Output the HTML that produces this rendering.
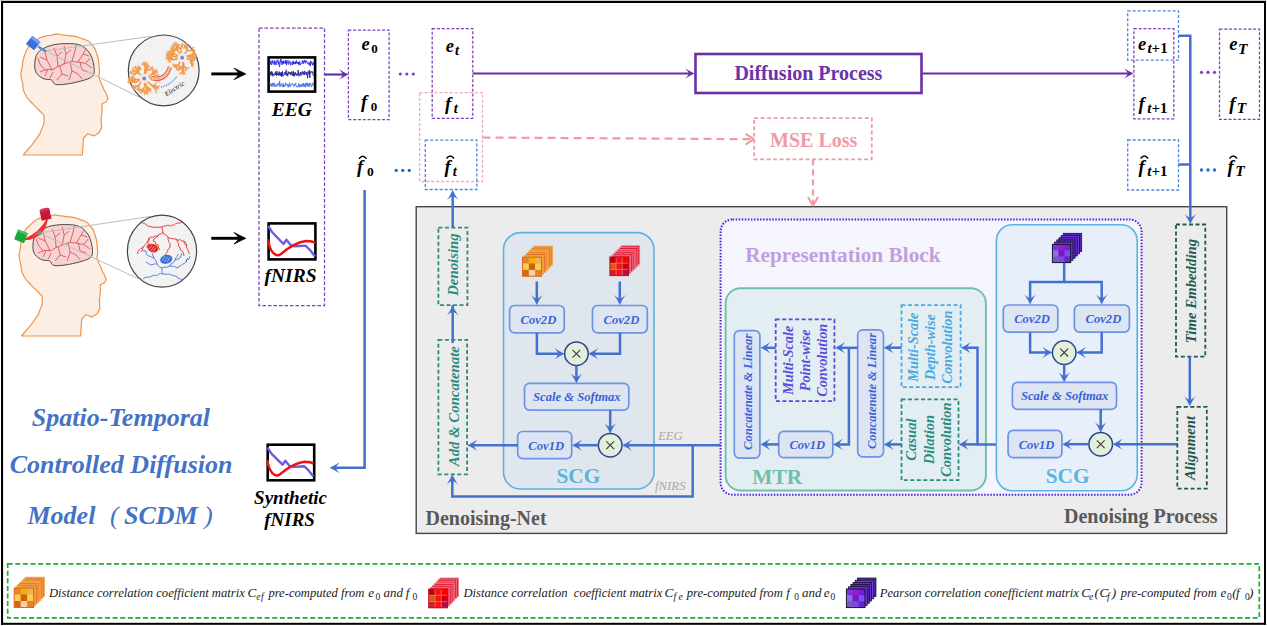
<!DOCTYPE html>
<html><head><meta charset="utf-8"><title>SCDM</title>
<style>html,body{margin:0;padding:0;background:#fff;} svg{display:block;}</style></head>
<body><svg width="1267" height="626" viewBox="0 0 1267 626">
<rect x="0" y="0" width="1267" height="626" fill="#fff"/>
<rect x="0" y="0" width="1267" height="1" fill="#c8c8c8"/>
<rect x="1" y="1" width="1265" height="2" fill="#000"/>
<rect x="1" y="1" width="2.1" height="623.8" fill="#000"/>
<rect x="1264" y="1" width="2" height="623.8" fill="#000"/>
<rect x="1" y="622.8" width="1265" height="2" fill="#000"/>
<path d="M44.00,115.10 C42.62,113.72 38.03,109.15 35.70,106.80 C33.37,104.45 31.55,102.72 30.00,101.00 C28.45,99.28 27.49,98.32 26.40,96.50 C25.31,94.68 24.07,92.15 23.45,90.06 C22.84,87.97 23.05,85.79 22.72,83.97 C22.40,82.14 21.81,80.81 21.51,79.09 C21.20,77.36 20.78,75.58 20.88,73.61 C20.99,71.65 21.79,69.39 22.13,67.29 C22.46,65.19 22.48,63.00 22.89,61.00 C23.30,59.01 23.81,57.44 24.59,55.31 C25.37,53.18 26.44,50.05 27.59,48.24 C28.74,46.43 30.11,45.75 31.48,44.46 C32.86,43.18 34.49,41.59 35.85,40.52 C37.22,39.44 37.95,38.79 39.66,38.02 C41.37,37.24 44.12,36.32 46.13,35.86 C48.13,35.40 49.96,35.56 51.69,35.24 C53.42,34.93 54.71,34.01 56.53,33.96 C58.36,33.91 60.73,34.66 62.64,34.94 C64.56,35.22 65.93,35.39 68.02,35.64 C70.11,35.89 73.04,36.02 75.20,36.46 C77.36,36.90 78.81,37.54 80.96,38.28 C83.11,39.02 86.37,39.91 88.10,40.90 C89.83,41.88 90.24,42.95 91.34,44.21 C92.44,45.46 93.89,47.04 94.72,48.43 C95.54,49.82 95.70,50.81 96.29,52.57 C96.88,54.33 97.82,56.95 98.27,59.00 C98.71,61.05 98.75,62.73 98.95,64.89 C99.15,67.04 99.48,69.98 99.46,71.95 C99.43,73.92 98.63,75.06 98.80,76.71 C98.98,78.36 99.90,80.34 100.51,81.87 C101.12,83.40 101.87,84.51 102.48,85.90 C103.10,87.29 103.53,88.77 104.20,90.20 C104.87,91.63 105.87,93.12 106.50,94.50 C107.13,95.88 107.75,97.83 108.00,98.50 L106.30,101.70 L102.10,103.70 L102.10,111.00 L101.10,119.30 L101.70,127.60 L99.00,132.80 L93.80,135.90 L87.60,133.80 L83.50,138.00 L82.40,155.00 L23.30,155.00 L32.60,144.20 L39.90,133.80 L44.00,123.40 Z" fill="#fdeee4" stroke="#ef9448" stroke-width="1.2" stroke-linejoin="round"/>
<path d="M34.70,65.30 C34.87,61.85 35.20,56.18 37.80,52.90 C40.40,49.62 45.45,47.15 50.30,45.60 C55.15,44.05 61.72,43.60 66.90,43.60 C72.08,43.60 77.43,43.70 81.40,45.60 C85.37,47.50 88.55,51.02 90.70,55.00 C92.85,58.98 94.12,65.87 94.30,69.50 C94.48,73.13 93.95,74.90 91.80,76.80 C89.65,78.70 85.55,79.70 81.40,80.90 C77.25,82.10 71.22,83.42 66.90,84.00 C62.58,84.58 58.10,85.08 55.50,84.40 C52.90,83.72 53.22,80.83 51.30,79.90 C49.38,78.97 46.42,79.85 44.00,78.80 C41.58,77.75 38.35,75.85 36.80,73.60 C35.25,71.35 34.53,68.75 34.70,65.30 Z" fill="#f6d2d2" stroke="#4a4a4a" stroke-width="1"/>
<path d="M 40.0,72.0 Q 48.0,68.0 52.0,70.0 Q 58.0,66.0 64.0,64.0 Q 72.0,60.0 78.0,62.0 Q 86.0,62.0 92.0,68.0" fill="none" stroke="#d83c3c" stroke-width="0.75"/>
<path d="M 52.0,70.0 L 47.0,60.0 L 45.0,52.0" fill="none" stroke="#d83c3c" stroke-width="0.75"/>
<path d="M 47.0,60.0 L 40.0,57.0" fill="none" stroke="#d83c3c" stroke-width="0.75"/>
<path d="M 58.0,67.0 L 57.0,56.0 L 54.0,48.0" fill="none" stroke="#d83c3c" stroke-width="0.75"/>
<path d="M 57.0,56.0 L 62.0,52.0" fill="none" stroke="#d83c3c" stroke-width="0.75"/>
<path d="M 64.0,64.0 L 66.0,54.0 L 64.0,46.0" fill="none" stroke="#d83c3c" stroke-width="0.75"/>
<path d="M 66.0,54.0 L 71.0,50.0" fill="none" stroke="#d83c3c" stroke-width="0.75"/>
<path d="M 72.0,61.0 L 75.0,51.0 L 76.0,45.0" fill="none" stroke="#d83c3c" stroke-width="0.75"/>
<path d="M 78.0,62.0 L 83.0,54.0 L 86.0,49.0" fill="none" stroke="#d83c3c" stroke-width="0.75"/>
<path d="M 83.0,54.0 L 89.0,56.0" fill="none" stroke="#d83c3c" stroke-width="0.75"/>
<path d="M 86.0,63.0 L 90.0,58.0" fill="none" stroke="#d83c3c" stroke-width="0.75"/>
<path d="M 60.0,66.0 L 62.0,74.0 L 57.0,80.0" fill="none" stroke="#d83c3c" stroke-width="0.75"/>
<path d="M 62.0,74.0 L 68.0,76.0" fill="none" stroke="#d83c3c" stroke-width="0.75"/>
<path d="M 70.0,62.0 L 72.0,71.0 L 69.0,80.0" fill="none" stroke="#d83c3c" stroke-width="0.75"/>
<path d="M 72.0,71.0 L 78.0,74.0 L 82.0,79.0" fill="none" stroke="#d83c3c" stroke-width="0.75"/>
<path d="M 80.0,62.0 L 82.0,70.0 L 88.0,72.0" fill="none" stroke="#d83c3c" stroke-width="0.75"/>
<path d="M 45.0,70.0 L 40.0,64.0 L 38.0,58.0" fill="none" stroke="#d83c3c" stroke-width="0.75"/>
<path d="M 48.0,69.0 L 45.0,76.0" fill="none" stroke="#d83c3c" stroke-width="0.75"/>
<path d="M 53.0,72.0 L 50.0,78.0" fill="none" stroke="#d83c3c" stroke-width="0.75"/>
<path d="M42.20,296.10 C40.82,294.72 36.23,290.15 33.90,287.80 C31.57,285.45 29.75,283.72 28.20,282.00 C26.65,280.28 25.69,279.32 24.60,277.50 C23.51,275.68 22.27,273.15 21.65,271.06 C21.04,268.97 21.25,266.79 20.92,264.97 C20.60,263.14 20.01,261.81 19.71,260.09 C19.40,258.36 18.98,256.58 19.08,254.61 C19.19,252.65 19.99,250.39 20.33,248.29 C20.66,246.19 20.68,244.00 21.09,242.00 C21.50,240.01 22.01,238.44 22.79,236.31 C23.57,234.18 24.64,231.05 25.79,229.24 C26.94,227.43 28.31,226.75 29.68,225.46 C31.06,224.18 32.69,222.59 34.05,221.52 C35.42,220.44 36.15,219.79 37.86,219.02 C39.57,218.24 42.32,217.32 44.33,216.86 C46.33,216.40 48.16,216.56 49.89,216.24 C51.62,215.93 52.91,215.01 54.73,214.96 C56.56,214.91 58.93,215.66 60.84,215.94 C62.76,216.22 64.13,216.39 66.22,216.64 C68.31,216.89 71.24,217.02 73.40,217.46 C75.56,217.90 77.01,218.54 79.16,219.28 C81.31,220.02 84.57,220.91 86.30,221.90 C88.03,222.88 88.44,223.95 89.54,225.21 C90.64,226.46 92.09,228.04 92.92,229.43 C93.74,230.82 93.90,231.81 94.49,233.57 C95.08,235.33 96.02,237.95 96.47,240.00 C96.91,242.05 96.95,243.73 97.15,245.89 C97.35,248.04 97.68,250.98 97.66,252.95 C97.63,254.92 96.83,256.06 97.00,257.71 C97.18,259.36 98.10,261.34 98.71,262.87 C99.32,264.40 100.07,265.51 100.68,266.90 C101.30,268.29 101.73,269.77 102.40,271.20 C103.07,272.63 104.07,274.12 104.70,275.50 C105.33,276.88 105.95,278.83 106.20,279.50 L104.50,282.70 L100.30,284.70 L100.30,292.00 L99.30,300.30 L99.90,308.60 L97.20,313.80 L92.00,316.90 L85.80,314.80 L81.70,319.00 L80.60,336.00 L21.50,336.00 L30.80,325.20 L38.10,314.80 L42.20,304.40 Z" fill="#fdeee4" stroke="#ef9448" stroke-width="1.2" stroke-linejoin="round"/>
<path d="M32.90,246.30 C33.07,242.85 33.40,237.18 36.00,233.90 C38.60,230.62 43.65,228.15 48.50,226.60 C53.35,225.05 59.92,224.60 65.10,224.60 C70.28,224.60 75.63,224.70 79.60,226.60 C83.57,228.50 86.75,232.02 88.90,236.00 C91.05,239.98 92.32,246.87 92.50,250.50 C92.68,254.13 92.15,255.90 90.00,257.80 C87.85,259.70 83.75,260.70 79.60,261.90 C75.45,263.10 69.42,264.42 65.10,265.00 C60.78,265.58 56.30,266.08 53.70,265.40 C51.10,264.72 51.42,261.83 49.50,260.90 C47.58,259.97 44.62,260.85 42.20,259.80 C39.78,258.75 36.55,256.85 35.00,254.60 C33.45,252.35 32.73,249.75 32.90,246.30 Z" fill="#f6d2d2" stroke="#4a4a4a" stroke-width="1"/>
<path d="M 38.2,253.0 Q 46.2,249.0 50.2,251.0 Q 56.2,247.0 62.2,245.0 Q 70.2,241.0 76.2,243.0 Q 84.2,243.0 90.2,249.0" fill="none" stroke="#d83c3c" stroke-width="0.75"/>
<path d="M 50.2,251.0 L 45.2,241.0 L 43.2,233.0" fill="none" stroke="#d83c3c" stroke-width="0.75"/>
<path d="M 45.2,241.0 L 38.2,238.0" fill="none" stroke="#d83c3c" stroke-width="0.75"/>
<path d="M 56.2,248.0 L 55.2,237.0 L 52.2,229.0" fill="none" stroke="#d83c3c" stroke-width="0.75"/>
<path d="M 55.2,237.0 L 60.2,233.0" fill="none" stroke="#d83c3c" stroke-width="0.75"/>
<path d="M 62.2,245.0 L 64.2,235.0 L 62.2,227.0" fill="none" stroke="#d83c3c" stroke-width="0.75"/>
<path d="M 64.2,235.0 L 69.2,231.0" fill="none" stroke="#d83c3c" stroke-width="0.75"/>
<path d="M 70.2,242.0 L 73.2,232.0 L 74.2,226.0" fill="none" stroke="#d83c3c" stroke-width="0.75"/>
<path d="M 76.2,243.0 L 81.2,235.0 L 84.2,230.0" fill="none" stroke="#d83c3c" stroke-width="0.75"/>
<path d="M 81.2,235.0 L 87.2,237.0" fill="none" stroke="#d83c3c" stroke-width="0.75"/>
<path d="M 84.2,244.0 L 88.2,239.0" fill="none" stroke="#d83c3c" stroke-width="0.75"/>
<path d="M 58.2,247.0 L 60.2,255.0 L 55.2,261.0" fill="none" stroke="#d83c3c" stroke-width="0.75"/>
<path d="M 60.2,255.0 L 66.2,257.0" fill="none" stroke="#d83c3c" stroke-width="0.75"/>
<path d="M 68.2,243.0 L 70.2,252.0 L 67.2,261.0" fill="none" stroke="#d83c3c" stroke-width="0.75"/>
<path d="M 70.2,252.0 L 76.2,255.0 L 80.2,260.0" fill="none" stroke="#d83c3c" stroke-width="0.75"/>
<path d="M 78.2,243.0 L 80.2,251.0 L 86.2,253.0" fill="none" stroke="#d83c3c" stroke-width="0.75"/>
<path d="M 43.2,251.0 L 38.2,245.0 L 36.2,239.0" fill="none" stroke="#d83c3c" stroke-width="0.75"/>
<path d="M 46.2,250.0 L 43.2,257.0" fill="none" stroke="#d83c3c" stroke-width="0.75"/>
<path d="M 51.2,253.0 L 48.2,259.0" fill="none" stroke="#d83c3c" stroke-width="0.75"/>
<polyline points="46,51 151.6,36.2" fill="none" stroke="#bcbcbc" stroke-width="1" stroke-linejoin="miter" />
<polyline points="46,51 141.6,98.3" fill="none" stroke="#bcbcbc" stroke-width="1" stroke-linejoin="miter" />
<polyline points="39.5,233 150,216.5" fill="none" stroke="#bcbcbc" stroke-width="1" stroke-linejoin="miter" />
<polyline points="39.5,233 139,279" fill="none" stroke="#bcbcbc" stroke-width="1" stroke-linejoin="miter" />
<g transform="translate(33.2,43) rotate(38)"><rect x="-5.2" y="-5.2" width="10.4" height="10.4" fill="#3a6fd8"/><rect x="-5.2" y="-5.2" width="10.4" height="3" fill="#7aa2ec"/></g>
<polyline points="38,46.5 46,51.5" fill="none" stroke="#5a88e0" stroke-width="2.4" stroke-linejoin="miter" />
<path d="M25,239.5 Q43,238 47,220 Q40,233 25,239.5 Z" fill="#f8b0b0" stroke="#ee2a2a" stroke-width="1.6" stroke-linejoin="round"/>
<path d="M26,239 Q41,236.5 46.5,221" fill="none" stroke="#f03030" stroke-width="1.4"/>
<g transform="translate(21,236.3) rotate(22)"><rect x="-5.3" y="-5.3" width="10.6" height="10.6" fill="#1aa83c"/><rect x="-5.3" y="-5.3" width="10.6" height="2.2" fill="#40c060"/></g>
<g transform="translate(45.5,214.6) rotate(-12)"><rect x="-5" y="-4.8" width="10" height="10" fill="#c8183a"/><ellipse cx="0" cy="-4.8" rx="5" ry="1.8" fill="#d83050"/></g>
<circle cx="39.5" cy="233" r="2.3" fill="#8a8a8a"/>
<circle cx="163.7" cy="70.4" r="35.4" fill="#f2f2f2" stroke="#444" stroke-width="1.2"/>
<ellipse cx="162" cy="251.1" rx="34.6" ry="36" fill="#f2f2f2" stroke="#444" stroke-width="1.2"/>
<path d="M147.5,78.0 L152.9,77.1 M152.9,77.1 L156.1,75.5 M152.9,77.1 L156.6,78.5 M152.9,77.1 L155.7,77.9 M146.6,80.8 L151.2,85.0 M151.2,85.0 L154.6,88.3 M151.2,85.0 L154.8,85.5 M151.2,85.0 L154.5,86.5 M145.2,81.7 L146.7,86.7 M146.7,86.7 L149.0,88.4 M146.7,86.7 L148.4,90.3 M146.7,86.7 L146.4,90.1 M144.4,81.8 L144.6,87.1 M144.6,87.1 L143.0,89.3 M144.6,87.1 L142.7,89.7 M144.6,87.1 L143.3,90.8 M142.1,81.1 L138.7,85.3 M138.7,85.3 L136.0,86.3 M138.7,85.3 L135.6,86.8 M138.7,85.3 L138.7,88.0 M141.2,79.8 L135.5,82.4 M135.5,82.4 L132.3,80.9 M135.5,82.4 L132.6,80.0 M135.5,82.4 L131.3,81.9 M140.9,79.0 L135.8,79.7 M135.8,79.7 L133.9,77.9 M135.8,79.7 L133.2,80.8 M135.8,79.7 L132.6,80.0 M141.9,76.2 L137.7,72.1 M137.7,72.1 L137.0,68.8 M137.7,72.1 L134.5,70.5 M137.7,72.1 L133.7,73.6 M141.8,76.2 L138.5,73.0 M138.5,73.0 L136.1,73.0 M138.5,73.0 L138.5,70.0 M138.5,73.0 L138.7,70.1 M144.4,75.2 L144.8,69.3 M144.8,69.3 L145.3,66.1 M144.8,69.3 L145.3,65.7 M144.8,69.3 L145.3,65.8 M145.1,75.3 L146.5,70.5 M146.5,70.5 L146.7,67.9 M146.5,70.5 L147.5,68.0 M146.5,70.5 L149.9,69.5 M147.1,76.9 L151.7,74.4 M151.7,74.4 L153.8,72.0 M151.7,74.4 L154.5,74.0 M151.7,74.4 L153.7,71.1" fill="none" stroke="#f09848" stroke-width="1.5" stroke-linecap="round"/>
<path d="M156.1,75.5 L157.9,75.2 M156.1,75.5 L158.1,76.2 M156.1,75.5 L157.9,75.4 M156.6,78.5 L158.4,80.8 M156.6,78.5 L158.5,77.5 M156.6,78.5 L159.1,78.6 M155.7,77.9 L156.7,79.8 M155.7,77.9 L157.2,77.5 M155.7,77.9 L157.7,77.4 M154.6,88.3 L156.9,89.0 M154.6,88.3 L157.8,87.2 M154.6,88.3 L155.9,91.0 M154.8,85.5 L155.4,87.6 M154.8,85.5 L156.4,86.3 M154.8,85.5 L155.7,83.9 M154.5,86.5 L156.8,86.8 M154.5,86.5 L156.5,86.5 M154.5,86.5 L156.6,86.5 M149.0,88.4 L150.2,89.4 M149.0,88.4 L149.3,90.0 M149.0,88.4 L150.5,89.1 M148.4,90.3 L147.2,92.1 M148.4,90.3 L150.2,91.2 M148.4,90.3 L146.9,92.7 M146.4,90.1 L146.6,92.5 M146.4,90.1 L146.8,91.9 M146.4,90.1 L145.1,91.2 M143.0,89.3 L143.7,90.6 M143.0,89.3 L142.8,90.9 M143.0,89.3 L143.5,91.0 M142.7,89.7 L140.7,90.2 M142.7,89.7 L141.8,91.2 M142.7,89.7 L140.8,89.5 M143.3,90.8 L141.1,92.1 M143.3,90.8 L141.6,91.8 M143.3,90.8 L144.8,93.1 M136.0,86.3 L134.0,85.8 M136.0,86.3 L135.0,87.8 M136.0,86.3 L135.7,88.0 M135.6,86.8 L133.7,87.9 M135.6,86.8 L133.7,88.1 M135.6,86.8 L133.1,86.8 M138.7,88.0 L138.7,89.6 M138.7,88.0 L138.7,89.8 M138.7,88.0 L137.4,89.1 M132.3,80.9 L130.5,81.5 M132.3,80.9 L130.2,80.9 M132.3,80.9 L130.4,79.5 M132.6,80.0 L131.2,78.7 M132.6,80.0 L132.9,77.9 M132.6,80.0 L130.0,79.8 M131.3,81.9 L129.2,81.3 M131.3,81.9 L130.4,79.9 M131.3,81.9 L129.2,82.7 M133.9,77.9 L132.8,76.8 M133.9,77.9 L132.1,77.1 M133.9,77.9 L132.4,77.9 M133.2,80.8 L131.4,81.3 M133.2,80.8 L131.9,79.7 M133.2,80.8 L131.6,79.9 M132.6,80.0 L131.2,81.4 M132.6,80.0 L131.5,78.7 M132.6,80.0 L130.3,79.9 M137.0,68.8 L138.2,66.6 M137.0,68.8 L135.3,68.2 M137.0,68.8 L135.7,67.2 M134.5,70.5 L132.9,69.1 M134.5,70.5 L132.5,70.9 M134.5,70.5 L132.9,71.5 M133.7,73.6 L132.6,75.5 M133.7,73.6 L131.3,73.1 M133.7,73.6 L131.1,72.5 M136.1,73.0 L135.4,74.4 M136.1,73.0 L135.5,72.0 M136.1,73.0 L135.3,74.2 M138.5,70.0 L140.0,69.1 M138.5,70.0 L139.4,68.3 M138.5,70.0 L138.3,68.0 M138.7,70.1 L140.4,69.2 M138.7,70.1 L139.1,68.7 M138.7,70.1 L139.1,68.8 M145.3,66.1 L144.3,64.7 M145.3,66.1 L143.8,64.8 M145.3,66.1 L144.8,64.0 M145.3,65.7 L146.6,64.3 M145.3,65.7 L146.5,63.6 M145.3,65.7 L144.4,64.0 M145.3,65.8 L147.7,64.9 M145.3,65.8 L144.4,63.3 M145.3,65.8 L143.3,64.3 M146.7,67.9 L145.5,66.6 M146.7,67.9 L146.1,66.4 M146.7,67.9 L148.3,66.9 M147.5,68.0 L146.6,66.8 M147.5,68.0 L147.0,66.7 M147.5,68.0 L147.1,66.1 M149.9,69.5 L151.1,68.0 M149.9,69.5 L150.8,67.9 M149.9,69.5 L152.0,70.5 M153.8,72.0 L155.8,71.8 M153.8,72.0 L156.2,71.9 M153.8,72.0 L156.0,71.2 M154.5,74.0 L155.6,75.2 M154.5,74.0 L156.0,73.1 M154.5,74.0 L155.5,72.9 M153.7,71.1 L152.7,69.2 M153.7,71.1 L152.9,68.5 M153.7,71.1 L155.7,70.3" fill="none" stroke="#f09848" stroke-width="0.95" stroke-linecap="round"/>
<path d="M157.9,75.2 L158.2,73.9 M157.9,75.2 L158.6,74.5 M157.9,75.2 L158.5,76.2 M158.1,76.2 L159.1,77.0 M158.1,76.2 L159.4,77.2 M158.1,76.2 L159.5,76.8 M157.9,75.4 L158.9,76.0 M157.9,75.4 L158.7,74.9 M157.9,75.4 L158.7,76.2 M158.4,80.8 L160.0,82.0 M158.4,80.8 L159.9,82.2 M158.4,80.8 L158.1,82.2 M158.5,77.5 L159.6,78.2 M158.5,77.5 L159.7,77.2 M158.5,77.5 L159.6,76.9 M159.1,78.6 L160.9,79.0 M159.1,78.6 L160.8,79.4 M159.1,78.6 L160.3,80.0 M156.7,79.8 L156.0,81.1 M156.7,79.8 L156.6,81.1 M156.7,79.8 L156.2,81.2 M157.2,77.5 L158.2,78.1 M157.2,77.5 L157.6,76.5 M157.2,77.5 L157.9,77.1 M157.7,77.4 L158.6,78.0 M157.7,77.4 L158.8,77.4 M157.7,77.4 L158.9,77.7 M156.9,89.0 L158.0,89.7 M156.9,89.0 L158.2,88.4 M156.9,89.0 L158.0,89.7 M157.8,87.2 L159.5,85.4 M157.8,87.2 L159.4,88.3 M157.8,87.2 L159.7,86.3 M155.9,91.0 L156.6,92.9 M155.9,91.0 L154.9,92.6 M155.9,91.0 L157.1,92.7 M155.4,87.6 L155.6,88.8 M155.4,87.6 L156.1,88.9 M155.4,87.6 L156.9,87.8 M156.4,86.3 L157.3,87.0 M156.4,86.3 L157.1,87.1 M156.4,86.3 L157.2,87.3 M155.7,83.9 L156.9,83.1 M155.7,83.9 L155.7,82.8 M155.7,83.9 L156.5,83.1 M156.8,86.8 L158.1,86.3 M156.8,86.8 L157.7,87.6 M156.8,86.8 L158.4,87.2 M156.5,86.5 L157.4,87.2 M156.5,86.5 L157.4,85.6 M156.5,86.5 L157.5,86.9 M156.6,86.5 L157.5,87.5 M156.6,86.5 L157.4,87.4 M156.6,86.5 L157.9,86.0 M150.2,89.4 L150.3,90.4 M150.2,89.4 L151.0,89.3 M150.2,89.4 L150.3,90.4 M149.3,90.0 L150.2,90.4 M149.3,90.0 L148.9,90.8 M149.3,90.0 L149.9,90.8 M150.5,89.1 L150.6,90.0 M150.5,89.1 L151.4,88.2 M150.5,89.1 L150.8,90.3 M147.2,92.1 L145.8,92.7 M147.2,92.1 L146.1,92.9 M147.2,92.1 L147.1,93.4 M150.2,91.2 L151.1,91.9 M150.2,91.2 L150.6,92.2 M150.2,91.2 L150.4,92.5 M146.9,92.7 L145.0,92.7 M146.9,92.7 L148.0,94.3 M146.9,92.7 L147.2,94.3 M146.6,92.5 L146.4,94.0 M146.6,92.5 L147.8,93.9 M146.6,92.5 L146.9,94.2 M146.8,91.9 L147.0,93.1 M146.8,91.9 L147.9,92.5 M146.8,91.9 L145.9,92.8 M145.1,91.2 L143.9,91.6 M145.1,91.2 L145.3,92.1 M145.1,91.2 L144.7,92.2 M143.7,90.6 L144.4,90.8 M143.7,90.6 L143.0,91.4 M143.7,90.6 L144.6,90.7 M142.8,90.9 L143.0,91.9 M142.8,90.9 L142.4,91.7 M142.8,90.9 L143.3,91.6 M143.5,91.0 L143.3,92.0 M143.5,91.0 L144.4,91.2 M143.5,91.0 L144.2,91.9 M140.7,90.2 L139.5,90.6 M140.7,90.2 L139.3,90.5 M140.7,90.2 L139.4,90.7 M141.8,91.2 L141.1,92.2 M141.8,91.2 L142.3,92.2 M141.8,91.2 L141.3,92.4 M140.8,89.5 L140.2,88.4 M140.8,89.5 L139.8,90.0 M140.8,89.5 L139.9,90.5 M141.1,92.1 L139.4,92.0 M141.1,92.1 L140.9,93.7 M141.1,92.1 L141.3,93.4 M141.6,91.8 L141.6,92.9 M141.6,91.8 L140.6,91.5 M141.6,91.8 L141.8,93.2 M144.8,93.1 L145.1,95.0 M144.8,93.1 L143.9,94.6 M144.8,93.1 L144.6,94.5 M134.0,85.8 L133.2,86.7 M134.0,85.8 L132.6,85.3 M134.0,85.8 L132.9,86.3 M135.0,87.8 L133.9,88.2 M135.0,87.8 L134.7,88.9 M135.0,87.8 L134.7,88.9 M135.7,88.0 L134.6,88.3 M135.7,88.0 L135.0,88.7 M135.7,88.0 L134.9,89.0 M133.7,87.9 L132.6,87.4 M133.7,87.9 L133.5,89.4 M133.7,87.9 L132.4,87.2 M133.7,88.1 L133.5,89.4 M133.7,88.1 L133.4,89.6 M133.7,88.1 L133.1,89.2 M133.1,86.8 L131.6,87.6 M133.1,86.8 L131.4,87.2 M133.1,86.8 L131.7,86.6 M138.7,89.6 L139.5,90.3 M138.7,89.6 L139.3,90.6 M138.7,89.6 L139.7,90.4 M138.7,89.8 L138.9,91.0 M138.7,89.8 L138.0,90.6 M138.7,89.8 L138.9,91.0 M137.4,89.1 L136.2,89.2 M137.4,89.1 L136.8,89.7 M137.4,89.1 L137.2,90.2 M130.5,81.5 L129.8,82.7 M130.5,81.5 L129.2,80.8 M130.5,81.5 L129.6,82.6 M130.2,80.9 L129.3,80.4 M130.2,80.9 L129.4,82.2 M130.2,80.9 L129.1,81.6 M130.4,79.5 L129.3,80.3 M130.4,79.5 L129.1,78.9 M130.4,79.5 L128.9,79.7 M131.2,78.7 L129.9,78.3 M131.2,78.7 L129.8,78.9 M131.2,78.7 L131.4,77.6 M132.9,77.9 L134.1,76.8 M132.9,77.9 L132.5,76.5 M132.9,77.9 L133.7,76.5 M130.0,79.8 L129.5,78.2 M130.0,79.8 L128.7,79.5 M130.0,79.8 L128.5,79.6 M129.2,81.3 L127.9,80.5 M129.2,81.3 L127.7,82.1 M129.2,81.3 L128.2,80.6 M130.4,79.9 L129.3,78.9 M130.4,79.9 L130.1,78.5 M130.4,79.9 L130.3,78.5 M129.2,82.7 L128.9,84.2 M129.2,82.7 L127.8,82.3 M129.2,82.7 L127.9,82.4 M132.8,76.8 L132.6,76.0 M132.8,76.8 L132.0,76.5 M132.8,76.8 L132.1,76.1 M132.1,77.1 L131.2,77.7 M132.1,77.1 L131.3,77.7 M132.1,77.1 L131.5,76.0 M132.4,77.9 L131.4,78.1 M132.4,77.9 L131.7,77.2 M132.4,77.9 L131.7,77.7 M131.4,81.3 L130.9,82.2 M131.4,81.3 L130.6,81.0 M131.4,81.3 L130.2,80.8 M131.9,79.7 L131.1,78.9 M131.9,79.7 L131.2,78.6 M131.9,79.7 L131.4,78.8 M131.6,79.9 L130.7,79.1 M131.6,79.9 L130.7,80.7 M131.6,79.9 L130.9,79.1 M131.2,81.4 L131.7,82.6 M131.2,81.4 L130.1,82.0 M131.2,81.4 L130.1,82.3 M131.5,78.7 L131.5,77.5 M131.5,78.7 L130.5,78.9 M131.5,78.7 L130.6,78.5 M130.3,79.9 L128.7,80.6 M130.3,79.9 L129.2,79.4 M130.3,79.9 L129.3,78.8 M138.2,66.6 L139.7,66.4 M138.2,66.6 L139.6,66.0 M138.2,66.6 L137.7,65.5 M135.3,68.2 L134.2,68.7 M135.3,68.2 L134.4,67.3 M135.3,68.2 L134.0,68.0 M135.7,67.2 L135.6,65.9 M135.7,67.2 L134.2,67.0 M135.7,67.2 L135.5,66.0 M132.9,69.1 L131.9,69.7 M132.9,69.1 L132.7,68.1 M132.9,69.1 L132.0,68.5 M132.5,70.9 L131.6,71.4 M132.5,70.9 L132.3,71.9 M132.5,70.9 L131.9,72.0 M132.9,71.5 L132.1,72.2 M132.9,71.5 L132.0,71.6 M132.9,71.5 L132.2,72.3 M132.6,75.5 L132.0,76.6 M132.6,75.5 L131.6,76.4 M132.6,75.5 L133.0,76.6 M131.3,73.1 L130.4,72.0 M131.3,73.1 L130.8,71.8 M131.3,73.1 L130.0,73.7 M131.1,72.5 L129.6,72.5 M131.1,72.5 L129.7,71.0 M131.1,72.5 L130.0,71.7 M135.4,74.4 L134.5,74.6 M135.4,74.4 L134.4,74.4 M135.4,74.4 L134.3,74.9 M135.5,72.0 L134.8,71.6 M135.5,72.0 L135.8,71.5 M135.5,72.0 L134.7,71.6 M135.3,74.2 L135.1,75.1 M135.3,74.2 L134.5,74.1 M135.3,74.2 L134.4,74.6 M140.0,69.1 L140.7,68.4 M140.0,69.1 L141.0,69.2 M140.0,69.1 L140.4,68.2 M139.4,68.3 L140.4,67.7 M139.4,68.3 L139.9,67.4 M139.4,68.3 L140.3,67.8 M138.3,68.0 L138.7,66.9 M138.3,68.0 L137.3,66.9 M138.3,68.0 L138.7,66.5 M140.4,69.2 L141.1,68.2 M140.4,69.2 L140.4,68.0 M140.4,69.2 L141.3,69.7 M139.1,68.7 L138.4,68.0 M139.1,68.7 L138.8,68.0 M139.1,68.7 L138.5,67.8 M139.1,68.8 L138.8,67.8 M139.1,68.8 L138.8,67.9 M139.1,68.8 L139.2,67.8 M144.3,64.7 L144.4,63.9 M144.3,64.7 L143.0,65.0 M144.3,64.7 L143.1,64.5 M143.8,64.8 L142.3,64.7 M143.8,64.8 L143.0,63.7 M143.8,64.8 L143.4,63.4 M144.8,64.0 L144.4,63.0 M144.8,64.0 L145.5,62.9 M144.8,64.0 L145.4,63.0 M146.6,64.3 L147.0,63.1 M146.6,64.3 L146.2,63.1 M146.6,64.3 L147.7,63.9 M146.5,63.6 L146.3,62.3 M146.5,63.6 L147.9,63.8 M146.5,63.6 L146.9,62.5 M144.4,64.0 L145.0,62.8 M144.4,64.0 L144.9,62.6 M144.4,64.0 L144.0,62.6 M147.7,64.9 L148.9,66.0 M147.7,64.9 L149.2,65.4 M147.7,64.9 L149.0,66.3 M144.4,63.3 L143.2,62.7 M144.4,63.3 L144.7,61.8 M144.4,63.3 L143.9,61.6 M143.3,64.3 L141.8,64.2 M143.3,64.3 L141.7,63.9 M143.3,64.3 L142.8,63.0 M145.5,66.6 L145.1,65.3 M145.5,66.6 L146.0,65.4 M145.5,66.6 L144.6,66.1 M146.1,66.4 L145.8,65.4 M146.1,66.4 L145.4,65.5 M146.1,66.4 L145.4,65.8 M148.3,66.9 L148.8,66.0 M148.3,66.9 L149.2,67.0 M148.3,66.9 L148.4,65.7 M146.6,66.8 L146.5,65.9 M146.6,66.8 L147.0,65.9 M146.6,66.8 L146.9,66.1 M147.0,66.7 L146.6,66.0 M147.0,66.7 L146.2,66.6 M147.0,66.7 L146.2,66.5 M147.1,66.1 L146.6,65.1 M147.1,66.1 L146.0,65.8 M147.1,66.1 L147.2,64.8 M151.1,68.0 L152.4,67.6 M151.1,68.0 L152.0,67.0 M151.1,68.0 L151.9,67.2 M150.8,67.9 L151.7,67.0 M150.8,67.9 L151.9,67.8 M150.8,67.9 L151.8,67.1 M152.0,70.5 L153.4,70.9 M152.0,70.5 L153.2,70.1 M152.0,70.5 L153.1,71.8 M155.8,71.8 L156.4,72.7 M155.8,71.8 L156.8,71.1 M155.8,71.8 L157.1,71.3 M156.2,71.9 L157.3,72.1 M156.2,71.9 L157.7,72.0 M156.2,71.9 L157.5,71.7 M156.0,71.2 L156.4,69.7 M156.0,71.2 L157.2,70.3 M156.0,71.2 L157.5,72.2 M155.6,75.2 L156.5,75.8 M155.6,75.2 L156.4,75.6 M155.6,75.2 L155.2,76.3 M156.0,73.1 L156.4,72.2 M156.0,73.1 L156.5,71.9 M156.0,73.1 L156.0,72.1 M155.5,72.9 L156.2,72.1 M155.5,72.9 L156.5,72.8 M155.5,72.9 L156.3,72.8 M152.7,69.2 L152.1,68.1 M152.7,69.2 L152.3,68.1 M152.7,69.2 L151.3,68.5 M152.9,68.5 L151.1,67.5 M152.9,68.5 L153.1,66.6 M152.9,68.5 L151.6,67.9 M155.7,70.3 L156.3,69.0 M155.7,70.3 L156.6,70.9 M155.7,70.3 L156.7,71.2" fill="none" stroke="#f3a058" stroke-width="0.65" stroke-linecap="round"/>
<circle cx="144.2" cy="78.5" r="4.8" fill="#fbe8d6"/>
<circle cx="144.2" cy="78.5" r="1.9" fill="#5a8ee8"/>
<path d="M185.4,57.2 L190.0,56.4 M190.0,56.4 L192.3,55.4 M190.0,56.4 L192.5,56.1 M190.0,56.4 L191.3,58.7 M185.3,58.5 L190.2,59.6 M190.2,59.6 L190.9,63.0 M190.2,59.6 L192.3,61.3 M190.2,59.6 L192.3,58.1 M182.9,60.9 L184.1,65.4 M184.1,65.4 L181.4,67.6 M184.1,65.4 L183.6,68.1 M184.1,65.4 L182.2,67.0 M182.5,61.0 L183.1,66.4 M183.1,66.4 L183.6,70.1 M183.1,66.4 L185.7,67.7 M183.1,66.4 L182.8,70.4 M180.6,60.6 L178.6,64.7 M178.6,64.7 L179.4,67.4 M178.6,64.7 L176.3,66.5 M178.6,64.7 L175.8,65.4 M178.9,58.4 L173.3,59.7 M173.3,59.7 L170.3,56.7 M173.3,59.7 L169.4,59.1 M173.3,59.7 L170.5,58.8 M178.8,57.2 L173.7,56.4 M173.7,56.4 L170.3,54.7 M173.7,56.4 L170.3,58.0 M173.7,56.4 L172.5,53.1 M179.1,56.3 L173.9,53.8 M173.9,53.8 L173.7,50.7 M173.9,53.8 L170.2,54.0 M173.9,53.8 L173.6,50.6 M180.4,54.9 L177.3,49.7 M177.3,49.7 L173.8,48.4 M177.3,49.7 L173.9,50.2 M177.3,49.7 L175.8,46.3 M181.5,54.5 L180.6,49.2 M180.6,49.2 L178.6,46.7 M180.6,49.2 L182.0,46.7 M180.6,49.2 L177.7,47.6 M184.0,55.0 L187.2,50.3 M187.2,50.3 L187.1,47.2 M187.2,50.3 L191.1,50.5 M187.2,50.3 L185.9,47.6 M185.2,56.7 L190.1,55.2 M190.1,55.2 L193.7,55.9 M190.1,55.2 L193.0,54.7 M190.1,55.2 L192.6,54.1" fill="none" stroke="#f09848" stroke-width="1.5" stroke-linecap="round"/>
<path d="M192.3,55.4 L192.5,53.9 M192.3,55.4 L192.8,54.2 M192.3,55.4 L193.4,54.2 M192.5,56.1 L193.8,55.8 M192.5,56.1 L193.8,57.3 M192.5,56.1 L193.6,56.8 M191.3,58.7 L192.3,59.7 M191.3,58.7 L190.7,59.9 M191.3,58.7 L192.8,59.1 M190.9,63.0 L192.0,65.4 M190.9,63.0 L192.2,65.3 M190.9,63.0 L192.2,64.4 M192.3,61.3 L193.8,60.6 M192.3,61.3 L191.9,62.9 M192.3,61.3 L192.5,63.0 M192.3,58.1 L193.8,58.8 M192.3,58.1 L193.4,57.3 M192.3,58.1 L194.0,58.3 M181.4,67.6 L179.7,68.1 M181.4,67.6 L179.4,68.4 M181.4,67.6 L179.6,67.2 M183.6,68.1 L182.0,68.9 M183.6,68.1 L182.1,68.9 M183.6,68.1 L182.5,68.9 M182.2,67.0 L182.3,68.5 M182.2,67.0 L180.9,66.7 M182.2,67.0 L182.1,68.3 M183.6,70.1 L184.0,72.0 M183.6,70.1 L183.0,72.4 M183.6,70.1 L182.4,72.2 M185.7,67.7 L186.3,69.2 M185.7,67.7 L187.8,68.2 M185.7,67.7 L185.8,69.8 M182.8,70.4 L180.9,72.7 M182.8,70.4 L184.0,73.1 M182.8,70.4 L183.7,72.9 M179.4,67.4 L179.0,69.3 M179.4,67.4 L177.7,68.8 M179.4,67.4 L178.2,69.0 M176.3,66.5 L174.8,65.8 M176.3,66.5 L176.6,68.6 M176.3,66.5 L174.4,66.0 M175.8,65.4 L175.5,66.9 M175.8,65.4 L174.4,66.3 M175.8,65.4 L174.2,64.4 M170.3,56.7 L167.6,55.3 M170.3,56.7 L169.0,53.9 M170.3,56.7 L167.4,55.8 M169.4,59.1 L167.2,58.2 M169.4,59.1 L167.4,58.3 M169.4,59.1 L168.7,56.5 M170.5,58.8 L169.0,58.3 M170.5,58.8 L169.2,57.9 M170.5,58.8 L169.5,57.1 M170.3,54.7 L167.9,54.7 M170.3,54.7 L168.0,55.8 M170.3,54.7 L168.6,52.7 M170.3,58.0 L169.8,60.8 M170.3,58.0 L169.5,60.4 M170.3,58.0 L168.6,60.2 M172.5,53.1 L173.8,51.8 M172.5,53.1 L170.5,52.3 M172.5,53.1 L170.6,52.8 M173.7,50.7 L172.7,48.5 M173.7,50.7 L173.6,49.1 M173.7,50.7 L172.9,48.9 M170.2,54.0 L168.8,52.2 M170.2,54.0 L168.6,53.1 M170.2,54.0 L168.1,54.4 M173.6,50.6 L172.7,48.7 M173.6,50.6 L175.2,49.2 M173.6,50.6 L174.9,49.4 M173.8,48.4 L171.3,48.9 M173.8,48.4 L172.8,46.0 M173.8,48.4 L172.7,45.9 M173.9,50.2 L171.8,50.5 M173.9,50.2 L172.2,49.7 M173.9,50.2 L172.1,51.6 M175.8,46.3 L174.1,45.0 M175.8,46.3 L174.7,44.2 M175.8,46.3 L176.1,43.6 M178.6,46.7 L178.1,44.9 M178.6,46.7 L179.4,45.3 M178.6,46.7 L176.3,46.0 M182.0,46.7 L181.3,45.5 M182.0,46.7 L182.3,44.9 M182.0,46.7 L182.7,44.9 M177.7,47.6 L176.6,45.6 M177.7,47.6 L175.5,48.6 M177.7,47.6 L177.4,45.5 M187.1,47.2 L186.9,44.9 M187.1,47.2 L185.2,46.4 M187.1,47.2 L185.9,45.4 M191.1,50.5 L193.4,49.8 M191.1,50.5 L193.1,51.2 M191.1,50.5 L192.5,48.1 M185.9,47.6 L184.7,46.0 M185.9,47.6 L184.3,47.8 M185.9,47.6 L185.3,45.7 M193.7,55.9 L195.7,55.7 M193.7,55.9 L194.9,58.2 M193.7,55.9 L195.2,54.6 M193.0,54.7 L194.6,55.0 M193.0,54.7 L194.2,55.6 M193.0,54.7 L194.8,55.1 M192.6,54.1 L194.0,53.6 M192.6,54.1 L193.7,54.9 M192.6,54.1 L194.0,54.3" fill="none" stroke="#f09848" stroke-width="0.95" stroke-linecap="round"/>
<path d="M192.5,53.9 L193.4,53.5 M192.5,53.9 L193.1,53.3 M192.5,53.9 L192.7,53.1 M192.8,54.2 L192.5,53.3 M192.8,54.2 L193.7,53.8 M192.8,54.2 L193.4,53.9 M193.4,54.2 L194.5,53.8 M193.4,54.2 L194.2,54.2 M193.4,54.2 L194.3,53.5 M193.8,55.8 L194.5,56.5 M193.8,55.8 L194.6,55.7 M193.8,55.8 L194.4,56.4 M193.8,57.3 L194.6,58.1 M193.8,57.3 L194.4,58.3 M193.8,57.3 L194.9,57.3 M193.6,56.8 L194.3,56.4 M193.6,56.8 L194.4,56.9 M193.6,56.8 L194.2,57.2 M192.3,59.7 L192.6,60.4 M192.3,59.7 L193.1,60.1 M192.3,59.7 L193.1,60.0 M190.7,59.9 L191.2,60.5 M190.7,59.9 L190.0,60.3 M190.7,59.9 L190.9,60.6 M192.8,59.1 L193.5,58.3 M192.8,59.1 L193.2,60.2 M192.8,59.1 L193.6,59.9 M192.0,65.4 L192.3,67.1 M192.0,65.4 L193.1,66.2 M192.0,65.4 L192.8,66.5 M192.2,65.3 L193.2,66.1 M192.2,65.3 L193.6,65.3 M192.2,65.3 L191.9,66.8 M192.2,64.4 L191.7,65.4 M192.2,64.4 L193.1,64.5 M192.2,64.4 L193.1,64.2 M193.8,60.6 L194.5,59.5 M193.8,60.6 L194.1,59.5 M193.8,60.6 L194.8,60.8 M191.9,62.9 L192.3,63.8 M191.9,62.9 L192.7,63.6 M191.9,62.9 L192.3,64.0 M192.5,63.0 L193.4,63.3 M192.5,63.0 L193.1,63.6 M192.5,63.0 L193.4,63.8 M193.8,58.8 L193.8,59.8 M193.8,58.8 L194.0,59.8 M193.8,58.8 L194.3,59.8 M193.4,57.3 L193.6,56.4 M193.4,57.3 L194.3,57.6 M193.4,57.3 L193.8,56.6 M194.0,58.3 L194.7,59.1 M194.0,58.3 L195.0,58.8 M194.0,58.3 L195.1,57.7 M179.7,68.1 L179.0,67.5 M179.7,68.1 L179.0,67.2 M179.7,68.1 L179.5,69.0 M179.4,68.4 L177.8,68.0 M179.4,68.4 L178.8,69.3 M179.4,68.4 L178.5,67.7 M179.6,67.2 L178.9,66.2 M179.6,67.2 L179.1,66.1 M179.6,67.2 L179.2,66.3 M182.0,68.9 L180.9,69.5 M182.0,68.9 L182.0,69.8 M182.0,68.9 L180.8,69.2 M182.1,68.9 L181.9,70.0 M182.1,68.9 L181.0,68.8 M182.1,68.9 L182.3,70.2 M182.5,68.9 L181.8,69.3 M182.5,68.9 L181.7,68.8 M182.5,68.9 L182.2,69.7 M182.3,68.5 L181.5,69.2 M182.3,68.5 L182.5,69.7 M182.3,68.5 L181.8,69.2 M180.9,66.7 L180.0,66.9 M180.9,66.7 L180.0,66.6 M180.9,66.7 L180.1,67.2 M182.1,68.3 L182.0,69.0 M182.1,68.3 L181.9,69.2 M182.1,68.3 L181.7,68.8 M184.0,72.0 L185.0,73.0 M184.0,72.0 L184.7,73.2 M184.0,72.0 L182.9,72.7 M183.0,72.4 L183.3,74.2 M183.0,72.4 L182.6,74.2 M183.0,72.4 L183.3,74.2 M182.4,72.2 L181.9,73.4 M182.4,72.2 L181.0,72.7 M182.4,72.2 L181.3,73.0 M186.3,69.2 L185.8,70.0 M186.3,69.2 L186.5,70.1 M186.3,69.2 L186.4,70.0 M187.8,68.2 L189.1,67.5 M187.8,68.2 L189.0,68.0 M187.8,68.2 L188.5,67.3 M185.8,69.8 L184.9,70.9 M185.8,69.8 L184.8,70.4 M185.8,69.8 L185.6,71.1 M180.9,72.7 L181.4,74.7 M180.9,72.7 L179.1,73.7 M180.9,72.7 L179.2,73.9 M184.0,73.1 L185.1,74.7 M184.0,73.1 L183.0,74.9 M184.0,73.1 L185.3,74.2 M183.7,72.9 L182.3,74.2 M183.7,72.9 L184.6,74.2 M183.7,72.9 L183.1,74.3 M179.0,69.3 L179.2,70.6 M179.0,69.3 L178.6,70.2 M179.0,69.3 L180.1,70.2 M177.7,68.8 L176.7,69.3 M177.7,68.8 L177.9,69.9 M177.7,68.8 L177.4,70.3 M178.2,69.0 L178.4,70.1 M178.2,69.0 L177.9,70.5 M178.2,69.0 L178.4,70.4 M174.8,65.8 L174.0,65.4 M174.8,65.8 L174.1,66.2 M174.8,65.8 L173.9,65.8 M176.6,68.6 L177.6,69.8 M176.6,68.6 L176.1,70.0 M176.6,68.6 L176.3,70.1 M174.4,66.0 L173.2,65.5 M174.4,66.0 L173.5,65.1 M174.4,66.0 L173.4,65.7 M175.5,66.9 L174.7,67.2 M175.5,66.9 L175.5,67.9 M175.5,66.9 L174.7,67.3 M174.4,66.3 L174.5,67.5 M174.4,66.3 L174.6,67.6 M174.4,66.3 L174.2,67.2 M174.2,64.4 L172.9,64.5 M174.2,64.4 L173.0,63.7 M174.2,64.4 L172.8,64.6 M167.6,55.3 L167.1,53.4 M167.6,55.3 L165.8,56.2 M167.6,55.3 L167.5,53.6 M169.0,53.9 L168.7,52.4 M169.0,53.9 L168.8,52.2 M169.0,53.9 L169.8,52.1 M167.4,55.8 L165.9,54.7 M167.4,55.8 L166.4,53.8 M167.4,55.8 L166.7,53.7 M167.2,58.2 L167.2,56.7 M167.2,58.2 L165.8,59.1 M167.2,58.2 L165.7,57.6 M167.4,58.3 L166.3,58.7 M167.4,58.3 L166.6,56.9 M167.4,58.3 L166.6,57.4 M168.7,56.5 L168.3,55.1 M168.7,56.5 L169.6,54.9 M168.7,56.5 L168.7,55.1 M169.0,58.3 L167.8,58.4 M169.0,58.3 L168.3,57.5 M169.0,58.3 L168.1,58.5 M169.2,57.9 L168.2,57.5 M169.2,57.9 L168.8,57.0 M169.2,57.9 L168.2,57.8 M169.5,57.1 L168.8,56.2 M169.5,57.1 L168.0,57.3 M169.5,57.1 L170.0,56.1 M167.9,54.7 L166.6,55.5 M167.9,54.7 L167.3,55.9 M167.9,54.7 L166.3,55.5 M168.0,55.8 L167.7,57.7 M168.0,55.8 L167.5,57.1 M168.0,55.8 L167.2,57.5 M168.6,52.7 L167.7,51.6 M168.6,52.7 L167.1,51.9 M168.6,52.7 L169.3,51.4 M169.8,60.8 L170.4,62.5 M169.8,60.8 L168.7,62.5 M169.8,60.8 L171.3,62.1 M169.5,60.4 L170.7,61.7 M169.5,60.4 L170.1,61.7 M169.5,60.4 L170.5,61.5 M168.6,60.2 L167.2,61.1 M168.6,60.2 L167.1,59.7 M168.6,60.2 L168.5,62.2 M173.8,51.8 L175.0,52.1 M173.8,51.8 L175.0,51.4 M173.8,51.8 L173.7,50.9 M170.5,52.3 L169.3,51.7 M170.5,52.3 L169.0,52.2 M170.5,52.3 L169.9,50.9 M170.6,52.8 L169.7,53.4 M170.6,52.8 L169.7,52.5 M170.6,52.8 L169.6,52.4 M172.7,48.5 L171.7,48.0 M172.7,48.5 L171.2,47.9 M172.7,48.5 L172.9,46.8 M173.6,49.1 L173.0,48.1 M173.6,49.1 L173.3,48.2 M173.6,49.1 L173.2,48.1 M172.9,48.9 L172.0,48.6 M172.9,48.9 L173.3,47.6 M172.9,48.9 L172.4,48.0 M168.8,52.2 L169.4,50.9 M168.8,52.2 L167.3,52.0 M168.8,52.2 L168.2,50.9 M168.6,53.1 L167.3,52.7 M168.6,53.1 L167.7,53.5 M168.6,53.1 L167.5,53.4 M168.1,54.4 L167.0,54.3 M168.1,54.4 L166.9,55.2 M168.1,54.4 L166.5,54.6 M172.7,48.7 L172.2,47.6 M172.7,48.7 L173.1,47.7 M172.7,48.7 L172.1,47.8 M175.2,49.2 L176.2,49.6 M175.2,49.2 L176.5,48.8 M175.2,49.2 L174.8,47.7 M174.9,49.4 L176.0,49.8 M174.9,49.4 L175.8,48.9 M174.9,49.4 L175.1,48.6 M171.3,48.9 L170.2,47.5 M171.3,48.9 L170.1,49.9 M171.3,48.9 L171.0,50.5 M172.8,46.0 L171.2,45.7 M172.8,46.0 L171.2,45.7 M172.8,46.0 L173.6,44.7 M172.7,45.9 L173.2,44.5 M172.7,45.9 L173.8,44.2 M172.7,45.9 L173.7,44.9 M171.8,50.5 L171.1,51.7 M171.8,50.5 L170.5,50.1 M171.8,50.5 L170.5,50.6 M172.2,49.7 L171.2,49.6 M172.2,49.7 L171.2,50.4 M172.2,49.7 L171.1,49.8 M172.1,51.6 L172.2,53.1 M172.1,51.6 L172.4,53.3 M172.1,51.6 L172.1,53.2 M174.1,45.0 L173.7,43.7 M174.1,45.0 L173.2,44.1 M174.1,45.0 L173.4,44.0 M174.7,44.2 L174.1,42.7 M174.7,44.2 L174.3,42.9 M174.7,44.2 L175.6,42.8 M176.1,43.6 L176.1,42.0 M176.1,43.6 L175.5,42.2 M176.1,43.6 L175.5,42.2 M178.1,44.9 L178.8,43.8 M178.1,44.9 L177.3,43.9 M178.1,44.9 L177.3,44.4 M179.4,45.3 L178.7,44.4 M179.4,45.3 L178.7,44.4 M179.4,45.3 L179.9,44.6 M176.3,46.0 L175.0,46.0 M176.3,46.0 L174.8,45.8 M176.3,46.0 L175.1,46.3 M181.3,45.5 L181.8,44.8 M181.3,45.5 L181.3,44.6 M181.3,45.5 L181.7,44.8 M182.3,44.9 L181.3,44.3 M182.3,44.9 L183.2,44.0 M182.3,44.9 L182.5,43.5 M182.7,44.9 L182.8,43.9 M182.7,44.9 L182.8,43.9 M182.7,44.9 L181.9,44.1 M176.6,45.6 L177.1,44.4 M176.6,45.6 L176.5,44.0 M176.6,45.6 L175.5,44.4 M175.5,48.6 L173.9,47.8 M175.5,48.6 L174.0,48.1 M175.5,48.6 L174.2,49.6 M177.4,45.5 L177.6,43.9 M177.4,45.5 L176.6,44.5 M177.4,45.5 L175.9,45.0 M186.9,44.9 L186.4,43.7 M186.9,44.9 L186.5,43.4 M186.9,44.9 L185.6,44.0 M185.2,46.4 L184.5,45.3 M185.2,46.4 L184.5,45.4 M185.2,46.4 L184.1,47.0 M185.9,45.4 L185.3,44.1 M185.9,45.4 L186.7,44.1 M185.9,45.4 L186.1,43.8 M193.4,49.8 L195.1,50.3 M193.4,49.8 L194.8,50.8 M193.4,49.8 L194.8,49.9 M193.1,51.2 L194.0,52.0 M193.1,51.2 L194.2,50.1 M193.1,51.2 L193.5,52.4 M192.5,48.1 L193.9,47.6 M192.5,48.1 L194.4,47.6 M192.5,48.1 L193.5,47.0 M184.7,46.0 L184.4,44.9 M184.7,46.0 L184.9,45.0 M184.7,46.0 L184.4,45.0 M184.3,47.8 L183.5,47.2 M184.3,47.8 L184.0,48.7 M184.3,47.8 L183.3,48.2 M185.3,45.7 L186.1,44.8 M185.3,45.7 L185.4,44.7 M185.3,45.7 L184.5,45.0 M195.7,55.7 L196.7,54.9 M195.7,55.7 L196.7,55.4 M195.7,55.7 L196.7,56.7 M194.9,58.2 L194.8,60.1 M194.9,58.2 L194.9,59.8 M194.9,58.2 L194.4,60.0 M195.2,54.6 L195.2,53.4 M195.2,54.6 L196.4,54.7 M195.2,54.6 L196.3,54.7 M194.6,55.0 L195.1,54.2 M194.6,55.0 L195.7,55.4 M194.6,55.0 L195.7,54.7 M194.2,55.6 L194.6,56.7 M194.2,55.6 L194.1,56.6 M194.2,55.6 L195.2,55.9 M194.8,55.1 L196.0,54.4 M194.8,55.1 L195.7,55.4 M194.8,55.1 L195.7,54.9 M194.0,53.6 L195.0,54.1 M194.0,53.6 L194.5,52.7 M194.0,53.6 L194.9,53.5 M193.7,54.9 L194.5,55.2 M193.7,54.9 L194.5,54.7 M193.7,54.9 L193.7,55.6 M194.0,54.3 L194.4,55.3 M194.0,54.3 L194.8,53.6 M194.0,54.3 L194.7,54.1" fill="none" stroke="#f3a058" stroke-width="0.65" stroke-linecap="round"/>
<circle cx="182.1" cy="57.7" r="4.8" fill="#fbe8d6"/>
<circle cx="182.1" cy="57.7" r="1.9" fill="#5a8ee8"/>
<path d="M151,78 Q165,82 170,67" fill="none" stroke="#e05a48" stroke-width="4.2"/>
<path d="M151,78 Q165,82 170,67" fill="none" stroke="#f8c8a0" stroke-width="2.4"/>
<path d="M151,78 Q165,82 170,67" fill="none" stroke="#f0a070" stroke-width="2.4" stroke-dasharray="0.8,2"/>
<path d="M161,87 Q171,85 177,76" fill="none" stroke="#5a88e0" stroke-width="1.3" stroke-dasharray="1,0.8"/>
<text transform="translate(166.5,96.5) rotate(-33)" font-family="'Liberation Serif', serif" font-size="7" font-style="italic" fill="#1a1a1a">Electric</text>
<path d="M142.0,223.0 L144.2,223.2 L146.0,224.5 L147.8,225.9 L149.9,226.5 L152.0,227.0 L154.0,227.4 L156.0,226.9 L158.0,227.5 L160.0,227.1 L162.0,227.0 L163.9,225.9 L166.0,226.1 L167.8,225.0 L170.2,226.2 L172.0,225.0 L174.2,225.2 L175.9,223.5 L177.9,222.9 L180.1,223.1 L182.0,222.0" fill="none" stroke="#e63030" stroke-width="0.9"/>
<path d="M162.0,227.0 L162.4,229.5 L163.0,232.0 L161.7,233.8 L159.1,234.0 L158.0,236.0 L155.6,235.8 L153.5,237.1 L151.2,237.2 L149.0,238.0 L148.2,240.3 L146.9,242.3 L145.6,244.2 L144.0,246.0 L142.7,247.8 L142.5,250.2 L141.0,252.0" fill="none" stroke="#e63030" stroke-width="0.9"/>
<path d="M149.0,238.0 L149.2,240.1 L148.0,242.0 L148.4,244.1 L147.0,245.9 L147.0,248.0" fill="none" stroke="#e63030" stroke-width="0.9"/>
<path d="M163.0,232.0 L164.1,234.3 L166.4,235.3 L168.0,237.0 L168.1,239.3 L168.6,241.6 L170.0,243.6 L170.0,246.0 L169.7,248.2 L167.8,249.5 L167.6,251.7 L166.2,253.3 L165.0,255.0" fill="none" stroke="#e63030" stroke-width="0.9"/>
<path d="M168.0,237.0 L169.8,238.3 L171.8,238.6 L173.9,238.9 L176.0,239.0 L177.4,241.1 L178.3,243.4 L178.6,245.9 L180.0,248.0 L180.5,250.2 L182.8,251.6 L183.5,253.7 L184.0,256.0" fill="none" stroke="#e63030" stroke-width="0.9"/>
<path d="M176.0,239.0 L177.8,240.2 L180.1,239.7 L181.9,241.0 L184.0,241.0 L184.3,243.6 L186.3,245.4 L186.6,247.9 L188.0,250.0 L188.8,251.9 L189.0,254.0" fill="none" stroke="#e63030" stroke-width="0.9"/>
<path d="M158.0,236.0 L156.1,237.4 L154.2,238.8 L153.0,241.0 L155.2,241.7 L155.8,244.3 L158.0,245.0 L158.5,247.7 L160.0,250.0" fill="none" stroke="#e63030" stroke-width="0.9"/>
<path d="M144.0,246.0 L142.6,247.7 L140.6,248.6 L139.0,250.0 L137.7,251.8 L138.0,254.0" fill="none" stroke="#e63030" stroke-width="0.9"/>
<path d="M184.0,241.0 L186.1,243.2 L187.0,246.0" fill="none" stroke="#e63030" stroke-width="0.9"/>
<path d="M165.0,255.0 L163.0,258.0" fill="none" stroke="#e63030" stroke-width="0.9"/>
<path d="M143.0,279.0 L145.0,277.5 L147.3,277.0 L149.9,277.1 L152.0,276.0 L154.1,275.0 L156.5,275.8 L158.5,274.4 L160.6,273.5 L163.0,274.0 L165.0,274.2 L167.1,274.1 L169.1,274.1 L171.1,274.9 L173.0,275.6 L175.0,276.0 L177.0,276.5 L178.2,278.6 L180.4,278.7 L182.0,280.0" fill="none" stroke="#4a78d8" stroke-width="0.9"/>
<path d="M163.0,274.0 L161.9,272.1 L162.0,270.1 L162.0,268.0 L159.8,267.4 L158.4,265.6 L157.0,264.0 L156.4,261.8 L155.3,259.8 L154.0,258.0 L152.0,257.4 L150.1,256.2 L148.0,256.0" fill="none" stroke="#4a78d8" stroke-width="0.9"/>
<path d="M157.0,264.0 L154.9,263.9 L153.0,264.4 L151.0,265.0 L148.4,263.6 L146.0,262.0" fill="none" stroke="#4a78d8" stroke-width="0.9"/>
<path d="M162.0,268.0 L163.8,266.8 L166.1,267.6 L168.0,266.7 L170.0,266.0 L171.3,263.7 L173.7,262.3 L175.0,260.0 L177.6,259.2 L180.0,258.0" fill="none" stroke="#4a78d8" stroke-width="0.9"/>
<path d="M170.0,266.0 L172.0,266.3 L174.2,266.3 L176.0,267.6 L178.0,268.0 L179.2,266.3 L181.2,265.6 L182.6,264.2 L184.6,263.5 L186.0,262.0 L186.8,259.7 L189.4,258.5 L190.0,256.0" fill="none" stroke="#4a78d8" stroke-width="0.9"/>
<path d="M175.0,260.0 L175.9,257.9 L177.4,256.2 L178.0,254.0" fill="none" stroke="#4a78d8" stroke-width="0.9"/>
<path d="M148.0,256.0 L146.2,253.8 L146.0,251.0 L143.9,250.8 L142.0,250.0" fill="none" stroke="#4a78d8" stroke-width="0.9"/>
<path d="M154.0,258.0 L153.0,255.5 L152.0,253.0" fill="none" stroke="#4a78d8" stroke-width="0.9"/>
<path d="M186.0,262.0 L186.6,259.8 L188.0,258.0" fill="none" stroke="#4a78d8" stroke-width="0.9"/>
<path d="M180.0,258.0 L181.1,255.5 L182.0,253.0" fill="none" stroke="#4a78d8" stroke-width="0.9"/>
<ellipse cx="152.8" cy="248.1" rx="5.6" ry="4.1" fill="#e02828" transform="rotate(20 152.8 248.1)"/>
<path d="M149,249 L152,245 M151,250.5 L154,246.5 M153,251.5 L156,247.5" stroke="#f8b0b0" stroke-width="0.7"/>
<ellipse cx="166.3" cy="259.3" rx="6.2" ry="4.4" fill="#3a70d8" transform="rotate(-15 166.3 259.3)"/>
<path d="M162,261 L165,256 M164.5,262 L167.5,257 M167,262 L170,257" stroke="#b0c8f8" stroke-width="0.7"/>
<polyline points="211.3,73.9 239,73.9" fill="none" stroke="#000" stroke-width="2.9" stroke-linejoin="miter" />
<path d="M245.8,73.9 Q240,71.30000000000001 234,68.10000000000001 Q238.2,71.9 238.8,73.9 Q238.2,75.9 234,79.7 Q240,76.5 245.8,73.9 Z" fill="#000" stroke="#000" stroke-width="0.8" stroke-linejoin="miter"/>
<polyline points="211.3,238.3 239,238.3" fill="none" stroke="#000" stroke-width="2.9" stroke-linejoin="miter" />
<path d="M245.8,238.3 Q240,235.70000000000002 234,232.5 Q238.2,236.3 238.8,238.3 Q238.2,240.3 234,244.10000000000002 Q240,240.9 245.8,238.3 Z" fill="#000" stroke="#000" stroke-width="0.8" stroke-linejoin="miter"/>
<rect x="259" y="28" width="65.5" height="277.5" rx="0" fill="none" stroke="#7b3fbf" stroke-width="1.25" stroke-dasharray="3.5,2" />
<rect x="268.6" y="57.4" width="46.5" height="34.2" rx="0" fill="#fff" stroke="#000" stroke-width="2.6" />
<polyline points="270.0,63.39 270.33,64.22 270.66,63.95 270.99,60.54 271.32,64.93 271.65,64.72 271.98,62.65 272.31,63.01 272.64,60.46 272.97,61.74 273.3,64.08 273.63,64.23 273.96,63.36 274.29,60.41 274.62,61.41 274.95,65.12 275.28,61.79 275.61,62.99 275.94,61.38 276.27,63.72 276.6,64.69 276.93,62.13 277.26,59.74 277.59,61.85 277.92,60.42 278.25,62.02 278.58,64.33 278.91,61.92 279.24,64.57 279.57,66.9 279.9,64.0 280.23,60.49 280.56,62.16 280.89,58.56 281.22,61.27 281.55,61.34 281.88,64.86 282.21,62.05 282.54,62.92 282.87,60.92 283.2,64.23 283.53,60.58 283.86,60.84 284.19,63.33 284.52,62.03 284.85,63.02 285.18,61.92 285.51,60.78 285.84,63.71 286.17,59.88 286.5,65.14 286.83,62.35 287.16,63.25 287.49,62.59 287.82,60.67 288.15,60.56 288.48,64.42 288.81,63.91 289.14,63.43 289.47,60.91 289.8,61.12 290.13,61.82 290.46,65.2 290.79,65.08 291.12,62.74 291.45,62.7 291.78,62.34 292.11,62.21 292.44,65.01 292.77,62.8 293.1,60.83 293.43,64.15 293.76,62.13 294.09,64.12 294.42,63.59 294.75,62.14 295.08,61.75 295.41,64.09 295.74,61.81 296.07,63.52 296.4,60.46 296.73,61.6 297.06,62.62 297.39,63.51 297.72,62.07 298.05,63.94 298.38,62.08 298.71,64.58 299.04,65.09 299.37,62.89 299.7,61.2 300.03,64.9 300.36,63.72 300.69,63.91 301.02,64.15 301.35,63.59 301.68,63.39 302.01,63.46 302.34,60.53 302.67,62.52 303.0,61.45 303.33,63.93 303.66,62.66 303.99,60.66 304.32,61.92 304.65,60.15 304.98,62.63 305.31,63.34 305.64,61.54 305.97,60.4 306.3,61.74 306.63,60.95 306.96,61.71 307.29,63.35 307.62,63.02 307.95,63.19 308.28,64.33 308.61,64.3 308.94,62.17 309.27,63.26 309.6,64.99 309.93,63.32 310.26,66.2 310.59,60.92 310.92,63.35 311.25,63.42 311.58,62.2 311.91,61.49 312.24,65.07 312.57,65.01 312.9,63.26 313.23,65.11 313.56,62.39" fill="none" stroke="#2323e6" stroke-width="0.85" stroke-linejoin="miter" />
<polyline points="270.0,76.32 270.33,72.69 270.66,71.83 270.99,73.51 271.32,75.26 271.65,71.27 271.98,72.62 272.31,75.27 272.64,72.59 272.97,76.34 273.3,74.36 273.63,74.55 273.96,75.07 274.29,75.15 274.62,73.97 274.95,72.74 275.28,73.61 275.61,75.07 275.94,71.39 276.27,73.57 276.6,75.82 276.93,71.28 277.26,73.42 277.59,74.88 277.92,73.71 278.25,73.2 278.58,75.63 278.91,72.74 279.24,71.54 279.57,74.81 279.9,72.69 280.23,75.94 280.56,73.69 280.89,73.79 281.22,72.0 281.55,76.72 281.88,72.4 282.21,75.32 282.54,71.33 282.87,76.29 283.2,75.68 283.53,75.58 283.86,74.56 284.19,74.9 284.52,72.72 284.85,71.98 285.18,73.35 285.51,74.95 285.84,71.76 286.17,69.79 286.5,74.19 286.83,75.77 287.16,73.44 287.49,74.32 287.82,76.08 288.15,71.49 288.48,71.99 288.81,73.83 289.14,74.09 289.47,72.57 289.8,72.52 290.13,73.89 290.46,72.42 290.79,75.03 291.12,74.91 291.45,71.64 291.78,71.67 292.11,74.29 292.44,75.76 292.77,72.88 293.1,71.35 293.43,71.48 293.76,76.15 294.09,72.36 294.42,76.26 294.75,75.47 295.08,74.45 295.41,72.42 295.74,74.39 296.07,73.21 296.4,75.52 296.73,75.38 297.06,75.63 297.39,74.28 297.72,75.05 298.05,70.03 298.38,71.01 298.71,75.82 299.04,76.24 299.37,73.64 299.7,74.42 300.03,73.62 300.36,72.0 300.69,73.15 301.02,75.78 301.35,72.52 301.68,72.04 302.01,72.42 302.34,71.37 302.67,73.12 303.0,74.78 303.33,73.65 303.66,71.81 303.99,72.71 304.32,74.99 304.65,71.0 304.98,71.28 305.31,73.29 305.64,73.09 305.97,73.63 306.3,75.01 306.63,72.05 306.96,74.7 307.29,74.56 307.62,78.25 307.95,71.52 308.28,72.96 308.61,74.05 308.94,73.9 309.27,70.0 309.6,75.87 309.93,77.88 310.26,71.4 310.59,72.84 310.92,72.53 311.25,71.98 311.58,71.4 311.91,72.13 312.24,73.29 312.57,71.64 312.9,71.76 313.23,75.99 313.56,75.66" fill="none" stroke="#1c1f8a" stroke-width="0.85" stroke-linejoin="miter" />
<polyline points="270.0,82.68 270.33,84.94 270.66,84.41 270.99,86.08 271.32,84.08 271.65,86.57 271.98,83.16 272.31,83.02 272.64,86.53 272.97,83.22 273.3,83.78 273.63,84.66 273.96,82.8 274.29,86.73 274.62,83.56 274.95,84.39 275.28,84.62 275.61,86.21 275.94,86.9 276.27,86.25 276.6,84.72 276.93,85.75 277.26,86.09 277.59,83.88 277.92,84.44 278.25,82.92 278.58,83.86 278.91,83.15 279.24,86.27 279.57,80.92 279.9,83.22 280.23,86.73 280.56,85.54 280.89,84.66 281.22,83.53 281.55,85.41 281.88,86.09 282.21,85.15 282.54,86.01 282.87,87.1 283.2,83.17 283.53,86.99 283.86,84.68 284.19,86.28 284.52,85.16 284.85,85.46 285.18,86.51 285.51,82.85 285.84,82.76 286.17,84.91 286.5,84.49 286.83,83.93 287.16,85.3 287.49,86.21 287.82,84.29 288.15,87.32 288.48,86.68 288.81,84.52 289.14,86.59 289.47,82.78 289.8,83.07 290.13,86.92 290.46,86.43 290.79,85.88 291.12,85.59 291.45,83.93 291.78,85.06 292.11,83.49 292.44,83.42 292.77,84.1 293.1,84.89 293.43,84.52 293.76,86.51 294.09,85.93 294.42,85.18 294.75,84.34 295.08,85.86 295.41,83.14 295.74,83.02 296.07,85.39 296.4,86.03 296.73,87.06 297.06,86.87 297.39,86.22 297.72,87.19 298.05,85.9 298.38,86.15 298.71,83.6 299.04,86.9 299.37,87.28 299.7,84.08 300.03,84.47 300.36,85.73 300.69,86.97 301.02,84.46 301.35,85.91 301.68,86.03 302.01,86.86 302.34,84.07 302.67,85.59 303.0,83.4 303.33,86.28 303.66,82.9 303.99,86.59 304.32,86.09 304.65,84.64 304.98,86.94 305.31,83.95 305.64,87.24 305.97,82.75 306.3,85.3 306.63,83.48 306.96,85.45 307.29,85.91 307.62,82.89 307.95,86.61 308.28,84.13 308.61,85.7 308.94,83.7 309.27,86.64 309.6,83.08 309.93,83.35 310.26,83.33 310.59,83.1 310.92,86.13 311.25,86.46 311.58,87.04 311.91,85.6 312.24,83.1 312.57,82.91 312.9,84.4 313.23,85.87 313.56,83.0" fill="none" stroke="#4a72e6" stroke-width="0.85" stroke-linejoin="miter" />
<text x="291.8" y="116" font-family="'Liberation Serif', serif" font-size="19.5" font-weight="bold" font-style="italic" fill="#000" text-anchor="middle" >EEG</text>
<rect x="268.6" y="223.4" width="46.8" height="36" rx="0" fill="#fff" stroke="#000" stroke-width="2.6" />
<polyline points="268.2,225.9 272.0,232.0 283.5,244.0 286.4,239.8 291.0,245.6 295.0,246.3 305.5,245.6 310.0,250.0 315.1,256.5" fill="none" stroke="#6a5ce6" stroke-width="2.4" stroke-linejoin="round"/>
<path d="M268.2,239.3 C269.5,252.0 276.0,258.0 281.0,254.0 C288.0,248.0 296.0,242.0 306.0,241.0 C311.0,241.0 314.0,242.0 315.1,243.1" fill="none" stroke="#f01010" stroke-width="2.4"/>
<text x="290.5" y="282.3" font-family="'Liberation Serif', serif" font-size="19.5" font-weight="bold" font-style="italic" fill="#000" text-anchor="middle" >fNIRS</text>
<polyline points="325,74.5 345,74.5" fill="none" stroke="#6a2fa6" stroke-width="2.2" stroke-linejoin="miter" />
<path transform="translate(348.5,74.5) rotate(0)" d="M0,0 Q-4.21,-1.85 -9.36,-5.27 Q-5.70,-1.58 -6.00,0 Q-5.70,1.58 -9.36,5.27 Q-4.21,1.85 0,0 Z" fill="#6a2fa6"/>
<rect x="348.4" y="30" width="40.7" height="89.6" rx="0" fill="none" stroke="#7b3fbf" stroke-width="1.25" stroke-dasharray="3,1.8" />
<text x="361.5" y="49.6" font-family="'Liberation Serif', serif" font-size="18.5" font-weight="bold" fill="#000"><tspan font-style="italic">e</tspan><tspan font-size="13" dy="3.6" dx="1.5">0</tspan></text>
<text x="361" y="107.5" font-family="'Liberation Serif', serif" font-size="18.5" font-weight="bold" fill="#000"><tspan font-style="italic">f</tspan><tspan font-size="13" dy="3.1" dx="3.5">0</tspan></text>
<circle cx="400.3" cy="74" r="1.6" fill="#7b3fbf"/>
<circle cx="406.8" cy="74" r="1.6" fill="#7b3fbf"/>
<circle cx="413.3" cy="74" r="1.6" fill="#7b3fbf"/>
<rect x="419.6" y="92.7" width="62.9" height="88.8" rx="0" fill="none" stroke="#f4aab2" stroke-width="1.3" stroke-dasharray="3,2" />
<rect x="432.2" y="28.6" width="40.6" height="89.7" rx="0" fill="none" stroke="#7b3fbf" stroke-width="1.25" stroke-dasharray="3,1.8" />
<text x="445.7" y="51.5" font-family="'Liberation Serif', serif" font-size="18.5" font-weight="bold" fill="#000"><tspan font-style="italic">e</tspan><tspan font-size="14.5" dy="3.6" dx="1.2" font-style="italic">t</tspan></text>
<text x="445" y="109.5" font-family="'Liberation Serif', serif" font-size="18.5" font-weight="bold" fill="#000"><tspan font-style="italic">f</tspan><tspan font-size="14.5" dy="3.1" dx="2.5" font-style="italic">t</tspan></text>
<polyline points="472.8,73.5 691,73.5" fill="none" stroke="#6a2fa6" stroke-width="2.2" stroke-linejoin="miter" />
<path transform="translate(694.5,73.5) rotate(0)" d="M0,0 Q-4.21,-1.85 -9.36,-5.27 Q-5.70,-1.58 -6.00,0 Q-5.70,1.58 -9.36,5.27 Q-4.21,1.85 0,0 Z" fill="#6a2fa6"/>
<rect x="695.5" y="54" width="226" height="39" rx="0" fill="#fff" stroke="#6a2fa6" stroke-width="2.6" />
<text x="808.4" y="80.3" font-family="'Liberation Serif', serif" font-size="20" font-weight="bold" font-style="normal" fill="#6a34a8" text-anchor="middle" >Diffusion Process</text>
<polyline points="922.5,73.5 1130,73.5" fill="none" stroke="#6a2fa6" stroke-width="2.2" stroke-linejoin="miter" />
<path transform="translate(1133.5,73.5) rotate(0)" d="M0,0 Q-4.21,-1.85 -9.36,-5.27 Q-5.70,-1.58 -6.00,0 Q-5.70,1.58 -9.36,5.27 Q-4.21,1.85 0,0 Z" fill="#6a2fa6"/>
<rect x="1133.9" y="28.7" width="39.9" height="90.1" rx="0" fill="none" stroke="#7b3fbf" stroke-width="1.25" stroke-dasharray="3,1.8" />
<rect x="1127.7" y="10.8" width="50.8" height="49.4" rx="0" fill="none" stroke="#4f84dc" stroke-width="1.3" stroke-dasharray="3,2" />
<text x="1138" y="49.6" font-family="'Liberation Serif', serif" font-size="18.5" font-weight="bold" fill="#000"><tspan font-style="italic">e</tspan><tspan font-size="15" dy="3.6" dx="1.2" font-style="italic">t</tspan><tspan font-size="15">+1</tspan></text>
<text x="1138.6" y="109.5" font-family="'Liberation Serif', serif" font-size="18.5" font-weight="bold" fill="#000"><tspan font-style="italic">f</tspan><tspan font-size="15" dy="3.6" dx="2.5" font-style="italic">t</tspan><tspan font-size="15">+1</tspan></text>
<circle cx="1201.5" cy="72.3" r="1.6" fill="#7b3fbf"/>
<circle cx="1208.0" cy="72.3" r="1.6" fill="#7b3fbf"/>
<circle cx="1214.5" cy="72.3" r="1.6" fill="#7b3fbf"/>
<rect x="1219.5" y="29" width="40" height="90.4" rx="0" fill="none" stroke="#7b3fbf" stroke-width="1.25" stroke-dasharray="3,1.8" />
<text x="1229.2" y="49.8" font-family="'Liberation Serif', serif" font-size="18.5" font-weight="bold" fill="#000"><tspan font-style="italic">e</tspan><tspan font-size="15.5" dy="3.8" dx="0.5" font-style="italic">T</tspan></text>
<text x="1229.2" y="109.5" font-family="'Liberation Serif', serif" font-size="18.5" font-weight="bold" fill="#000"><tspan font-style="italic">f</tspan><tspan font-size="15.5" dy="3.6" dx="1.5" font-style="italic">T</tspan></text>
<polyline points="482.5,137.5 752,139.2" fill="none" stroke="#f09aa5" stroke-width="2.2" stroke-dasharray="8,5" stroke-linejoin="miter" />
<path d="M754,139.2 L745.5,133.8 M754,139.2 L745.5,144.6" stroke="#f09aa5" stroke-width="2" fill="none"/>
<rect x="754.2" y="118.2" width="117.6" height="41.2" rx="0" fill="none" stroke="#f09aa5" stroke-width="1.8" stroke-dasharray="4,2.5" />
<text x="813.7" y="147" font-family="'Liberation Serif', serif" font-size="20" font-weight="bold" font-style="normal" fill="#f09aa5" text-anchor="middle" >MSE Loss</text>
<text x="357" y="172.8" font-family="'Liberation Serif', serif" font-size="18.5" font-weight="bold" fill="#000"><tspan font-style="italic">f</tspan><tspan font-size="13.5" dy="3.1" dx="3.8">0</tspan></text>
<path d="M359,158.8 Q362.75,153.8 366.5,158.8" fill="none" stroke="#000" stroke-width="1.4"/>
<circle cx="396.2" cy="170.4" r="1.7" fill="#1a6fd0"/>
<circle cx="402.75" cy="170.4" r="1.7" fill="#1a6fd0"/>
<circle cx="409.3" cy="170.4" r="1.7" fill="#1a6fd0"/>
<rect x="425.3" y="140.1" width="51.5" height="49.4" rx="0" fill="none" stroke="#4f84dc" stroke-width="1.3" stroke-dasharray="3,2" />
<text x="444.5" y="172.5" font-family="'Liberation Serif', serif" font-size="18.5" font-weight="bold" fill="#000"><tspan font-style="italic">f</tspan><tspan font-size="14.5" dy="3.1" dx="2" font-style="italic">t</tspan></text>
<path d="M446.5,158.5 Q450.25,153.5 454.0,158.5" fill="none" stroke="#000" stroke-width="1.4"/>
<rect x="1127.7" y="140" width="50.8" height="50" rx="0" fill="none" stroke="#4f84dc" stroke-width="1.3" stroke-dasharray="3,2" />
<text x="1138.6" y="172.5" font-family="'Liberation Serif', serif" font-size="18.5" font-weight="bold" fill="#000"><tspan font-style="italic">f</tspan><tspan font-size="15" dy="3.6" dx="2.5" font-style="italic">t</tspan><tspan font-size="15">+1</tspan></text>
<path d="M1140.6,158.5 Q1144.35,153.5 1148.1,158.5" fill="none" stroke="#000" stroke-width="1.4"/>
<circle cx="1201.5" cy="170" r="1.7" fill="#1a6fd0"/>
<circle cx="1208.0" cy="170" r="1.7" fill="#1a6fd0"/>
<circle cx="1214.5" cy="170" r="1.7" fill="#1a6fd0"/>
<text x="1227.5" y="172.5" font-family="'Liberation Serif', serif" font-size="18.5" font-weight="bold" fill="#000"><tspan font-style="italic">f</tspan><tspan font-size="15.5" dy="3.6" dx="1.5" font-style="italic">T</tspan></text>
<path d="M1229.5,158.5 Q1233.25,153.5 1237.0,158.5" fill="none" stroke="#000" stroke-width="1.4"/>
<polyline points="364.6,190 364.6,467.8 333,467.8" fill="none" stroke="#4470d0" stroke-width="2.5" stroke-linejoin="miter" />
<path transform="translate(329.6,467.8) rotate(180)" d="M0,0 Q-4.64,-2.03 -10.30,-5.80 Q-6.27,-1.74 -6.60,0 Q-6.27,1.74 -10.30,5.80 Q-4.64,2.03 0,0 Z" fill="#4470d0"/>
<rect x="416.2" y="206.7" width="810.5" height="326.7" rx="0" fill="#ececec" stroke="#454545" stroke-width="1.4" />
<text x="425.5" y="524.8" font-family="'Liberation Serif', serif" font-size="20" font-weight="bold" font-style="normal" fill="#595959" text-anchor="start" >Denoising-Net</text>
<text x="1217.5" y="523.2" font-family="'Liberation Serif', serif" font-size="20" font-weight="bold" font-style="normal" fill="#595959" text-anchor="end" >Denoising Process</text>
<rect x="438.4" y="227.6" width="29" height="77.6" rx="0" fill="none" stroke="#2a8c7e" stroke-width="1.8" stroke-dasharray="4,2.5" />
<text transform="translate(458,264.6) rotate(-90)" x="0" y="0" font-family="'Liberation Serif', serif" font-size="14.8" font-weight="bold" font-style="italic" fill="#2a8c7e" text-anchor="middle">Denoising</text>
<rect x="438.4" y="339.8" width="28.7" height="134.5" rx="0" fill="none" stroke="#2a8c7e" stroke-width="1.8" stroke-dasharray="4,2.5" />
<text transform="translate(458.8,406.2) rotate(-90)" x="0" y="0" font-family="'Liberation Serif', serif" font-size="14.8" font-weight="bold" font-style="italic" fill="#2a8c7e" text-anchor="middle">Add &amp; Concatenate</text>
<polyline points="452.7,305.2 452.7,343" fill="none" stroke="#4470d0" stroke-width="2.5" stroke-linejoin="miter" />
<path transform="translate(452.7,305.5) rotate(-90)" d="M0,0 Q-4.64,-2.03 -10.30,-5.80 Q-6.27,-1.74 -6.60,0 Q-6.27,1.74 -10.30,5.80 Q-4.64,2.03 0,0 Z" fill="#4470d0"/>
<polyline points="692.7,445.2 692.7,496.5 452.3,496.5 452.3,478" fill="none" stroke="#4470d0" stroke-width="2.5" stroke-linejoin="miter" />
<path transform="translate(452.3,474.5) rotate(-90)" d="M0,0 Q-4.64,-2.03 -10.30,-5.80 Q-6.27,-1.74 -6.60,0 Q-6.27,1.74 -10.30,5.80 Q-4.64,2.03 0,0 Z" fill="#4470d0"/>
<rect x="503.5" y="232.6" width="150.5" height="256.4" rx="17" fill="#dfe6ee" stroke="#5cb3e2" stroke-width="1.6" />
<rect x="533.50" y="246.20" width="19" height="19" fill="#e8802a" stroke="#f4a450" stroke-width="0.8"/>
<rect x="531.67" y="248.03" width="19" height="19" fill="#e07028" stroke="#f4a450" stroke-width="0.8"/>
<rect x="529.83" y="249.87" width="19" height="19" fill="#f0a030" stroke="#f4a450" stroke-width="0.8"/>
<rect x="528.00" y="251.70" width="19" height="19" fill="#e8802a" stroke="#f4a450" stroke-width="0.8"/>
<rect x="526.17" y="253.53" width="19" height="19" fill="#e07028" stroke="#f4a450" stroke-width="0.8"/>
<rect x="524.33" y="255.37" width="19" height="19" fill="#f0a030" stroke="#f4a450" stroke-width="0.8"/>
<rect x="522.50" y="257.20" width="6.48" height="6.48" fill="#e88030"/>
<rect x="528.83" y="257.20" width="6.48" height="6.48" fill="#f0b000"/>
<rect x="535.17" y="257.20" width="6.48" height="6.48" fill="#e8b060"/>
<rect x="522.50" y="263.53" width="6.48" height="6.48" fill="#f8d050"/>
<rect x="528.83" y="263.53" width="6.48" height="6.48" fill="#d06010"/>
<rect x="535.17" y="263.53" width="6.48" height="6.48" fill="#f8d050"/>
<rect x="522.50" y="269.87" width="6.48" height="6.48" fill="#d06818"/>
<rect x="528.83" y="269.87" width="6.48" height="6.48" fill="#f8d0a8"/>
<rect x="535.17" y="269.87" width="6.48" height="6.48" fill="#e88030"/>
<rect x="522.5" y="257.2" width="19" height="19" fill="none" stroke="#e06818" stroke-width="1.0"/>
<rect x="621.10" y="245.80" width="18.6" height="18.6" fill="#e02030" stroke="#f08090" stroke-width="0.8"/>
<rect x="619.23" y="247.67" width="18.6" height="18.6" fill="#d01838" stroke="#f08090" stroke-width="0.8"/>
<rect x="617.37" y="249.53" width="18.6" height="18.6" fill="#f04050" stroke="#f08090" stroke-width="0.8"/>
<rect x="615.50" y="251.40" width="18.6" height="18.6" fill="#e02030" stroke="#f08090" stroke-width="0.8"/>
<rect x="613.63" y="253.27" width="18.6" height="18.6" fill="#d01838" stroke="#f08090" stroke-width="0.8"/>
<rect x="611.77" y="255.13" width="18.6" height="18.6" fill="#f04050" stroke="#f08090" stroke-width="0.8"/>
<rect x="609.90" y="257.00" width="6.35" height="6.35" fill="#c00010"/>
<rect x="616.10" y="257.00" width="6.35" height="6.35" fill="#ff1010"/>
<rect x="622.30" y="257.00" width="6.35" height="6.35" fill="#ff0000"/>
<rect x="609.90" y="263.20" width="6.35" height="6.35" fill="#d06010"/>
<rect x="616.10" y="263.20" width="6.35" height="6.35" fill="#ff1010"/>
<rect x="622.30" y="263.20" width="6.35" height="6.35" fill="#c80010"/>
<rect x="609.90" y="269.40" width="6.35" height="6.35" fill="#d02030"/>
<rect x="616.10" y="269.40" width="6.35" height="6.35" fill="#ff1010"/>
<rect x="622.30" y="269.40" width="6.35" height="6.35" fill="#b01048"/>
<path d="M616.10,257 V275.6 M622.30,257 V275.6 M609.9,263.20 H628.5 M609.9,269.40 H628.5" stroke="#f4a0a0" stroke-width="0.5"/>
<rect x="609.9" y="257" width="18.6" height="18.6" fill="none" stroke="#c01020" stroke-width="1.0"/>
<polyline points="536.8,281.5 536.8,301" fill="none" stroke="#4470d0" stroke-width="2.5" stroke-linejoin="miter" />
<path transform="translate(536.8,305) rotate(90)" d="M0,0 Q-4.64,-2.03 -10.30,-5.80 Q-6.27,-1.74 -6.60,0 Q-6.27,1.74 -10.30,5.80 Q-4.64,2.03 0,0 Z" fill="#4470d0"/>
<polyline points="619.8,281.5 619.8,301" fill="none" stroke="#4470d0" stroke-width="2.5" stroke-linejoin="miter" />
<path transform="translate(619.8,305) rotate(90)" d="M0,0 Q-4.64,-2.03 -10.30,-5.80 Q-6.27,-1.74 -6.60,0 Q-6.27,1.74 -10.30,5.80 Q-4.64,2.03 0,0 Z" fill="#4470d0"/>
<rect x="509.6" y="305.5" width="54.6" height="27.3" rx="5" fill="#dde5f3" stroke="#6d93e4" stroke-width="1.7" />
<text x="538.4" y="323.65" font-family="'Liberation Serif', serif" font-size="12.6" font-weight="bold" font-style="italic" fill="#3a63d6" text-anchor="middle" >Cov2D</text>
<rect x="592.5" y="305.5" width="54.8" height="27.3" rx="5" fill="#dde5f3" stroke="#6d93e4" stroke-width="1.7" />
<text x="621.4" y="323.65" font-family="'Liberation Serif', serif" font-size="12.6" font-weight="bold" font-style="italic" fill="#3a63d6" text-anchor="middle" >Cov2D</text>
<polyline points="536.9,332.7 536.9,353.7 561,353.7" fill="none" stroke="#4470d0" stroke-width="2.5" stroke-linejoin="miter" />
<path transform="translate(564.6,353.7) rotate(0)" d="M0,0 Q-4.64,-2.03 -10.30,-5.80 Q-6.27,-1.74 -6.60,0 Q-6.27,1.74 -10.30,5.80 Q-4.64,2.03 0,0 Z" fill="#4470d0"/>
<polyline points="620,332.7 620,353.7 592,353.7" fill="none" stroke="#4470d0" stroke-width="2.5" stroke-linejoin="miter" />
<path transform="translate(588.2,353.7) rotate(180)" d="M0,0 Q-4.64,-2.03 -10.30,-5.80 Q-6.27,-1.74 -6.60,0 Q-6.27,1.74 -10.30,5.80 Q-4.64,2.03 0,0 Z" fill="#4470d0"/>
<circle cx="576.4" cy="353.7" r="11.8" fill="#e3efd9" stroke="#2b4590" stroke-width="1.5"/>
<path d="M572.5,349.8 L580.3,357.59999999999997 M580.3,349.8 L572.5,357.59999999999997" stroke="#3a3a3a" stroke-width="1.1"/>
<polyline points="576.4,365.5 576.4,380" fill="none" stroke="#4470d0" stroke-width="2.5" stroke-linejoin="miter" />
<path transform="translate(576.4,383.5) rotate(90)" d="M0,0 Q-4.64,-2.03 -10.30,-5.80 Q-6.27,-1.74 -6.60,0 Q-6.27,1.74 -10.30,5.80 Q-4.64,2.03 0,0 Z" fill="#4470d0"/>
<rect x="524.5" y="383.3" width="104.3" height="26.8" rx="5" fill="#dde5f3" stroke="#6d93e4" stroke-width="1.7" />
<text x="576.85" y="401.2" font-family="'Liberation Serif', serif" font-size="12.6" font-weight="bold" font-style="italic" fill="#3a63d6" text-anchor="middle" >Scale &amp; Softmax</text>
<polyline points="610.2,409.9 610.2,430" fill="none" stroke="#4470d0" stroke-width="2.5" stroke-linejoin="miter" />
<path transform="translate(610.2,433.4) rotate(90)" d="M0,0 Q-4.64,-2.03 -10.30,-5.80 Q-6.27,-1.74 -6.60,0 Q-6.27,1.74 -10.30,5.80 Q-4.64,2.03 0,0 Z" fill="#4470d0"/>
<circle cx="610.2" cy="445.2" r="11.8" fill="#e3efd9" stroke="#2b4590" stroke-width="1.5"/>
<path d="M606.3000000000001,441.3 L614.1,449.09999999999997 M614.1,441.3 L606.3000000000001,449.09999999999997" stroke="#3a3a3a" stroke-width="1.1"/>
<rect x="517.7" y="431.5" width="54" height="27.1" rx="5" fill="#dde5f3" stroke="#6d93e4" stroke-width="1.7" />
<text x="546.2" y="449.55" font-family="'Liberation Serif', serif" font-size="12.6" font-weight="bold" font-style="italic" fill="#3a63d6" text-anchor="middle" >Cov1D</text>
<text x="578.4" y="483" font-family="'Liberation Serif', serif" font-size="21.3" font-weight="bold" font-style="normal" fill="#5ab4e0" text-anchor="middle" >SCG</text>
<polyline points="598.4,445.2 576,445.2" fill="none" stroke="#4470d0" stroke-width="2.5" stroke-linejoin="miter" />
<path transform="translate(572,445.2) rotate(180)" d="M0,0 Q-4.64,-2.03 -10.30,-5.80 Q-6.27,-1.74 -6.60,0 Q-6.27,1.74 -10.30,5.80 Q-4.64,2.03 0,0 Z" fill="#4470d0"/>
<polyline points="517.7,445.2 471,445.2" fill="none" stroke="#4470d0" stroke-width="2.5" stroke-linejoin="miter" />
<path transform="translate(467.3,445.2) rotate(180)" d="M0,0 Q-4.64,-2.03 -10.30,-5.80 Q-6.27,-1.74 -6.60,0 Q-6.27,1.74 -10.30,5.80 Q-4.64,2.03 0,0 Z" fill="#4470d0"/>
<polyline points="734.5,445.2 626,445.2" fill="none" stroke="#4470d0" stroke-width="2.5" stroke-linejoin="miter" />
<path transform="translate(622,445.2) rotate(180)" d="M0,0 Q-4.64,-2.03 -10.30,-5.80 Q-6.27,-1.74 -6.60,0 Q-6.27,1.74 -10.30,5.80 Q-4.64,2.03 0,0 Z" fill="#4470d0"/>
<text x="658.2" y="439.7" font-family="'Liberation Serif', serif" font-size="12.5" font-weight="normal" font-style="italic" fill="#a8a8a8" text-anchor="start" >EEG</text>
<text x="655" y="489.7" font-family="'Liberation Serif', serif" font-size="12.8" font-weight="normal" font-style="italic" fill="#a8a8a8" text-anchor="start" >fNIRS</text>
<rect x="720.6" y="219.4" width="421" height="275.3" rx="12" fill="#f5f5fd" stroke="#4a1ee0" stroke-width="2" stroke-dasharray="1.5,1.55" />
<text x="745.2" y="262.4" font-family="'Liberation Serif', serif" font-size="21.3" font-weight="bold" font-style="normal" fill="#c39ede" text-anchor="start" >Representation Block</text>
<rect x="725.6" y="288.3" width="260.3" height="202.2" rx="15" fill="#e3eef3" stroke="#6ec0a8" stroke-width="1.9" />
<text x="777.2" y="483.8" font-family="'Liberation Serif', serif" font-size="21.3" font-weight="bold" font-style="normal" fill="#6cc0ac" text-anchor="middle" >MTR</text>
<rect x="734.3" y="330.6" width="25.6" height="127.5" rx="5" fill="#dde5f3" stroke="#6d93e4" stroke-width="1.7" />
<text transform="translate(752,391.8) rotate(-90)" x="0" y="0" font-family="'Liberation Serif', serif" font-size="12.6" font-weight="bold" font-style="italic" fill="#3a63d6" text-anchor="middle">Concatenate &amp; Linear</text>
<rect x="857.7" y="329.8" width="25.8" height="127" rx="5" fill="#dde5f3" stroke="#6d93e4" stroke-width="1.7" />
<text transform="translate(875.5,391) rotate(-90)" x="0" y="0" font-family="'Liberation Serif', serif" font-size="12.6" font-weight="bold" font-style="italic" fill="#3a63d6" text-anchor="middle">Concatenate &amp; Linear</text>
<rect x="778.7" y="431.4" width="54.1" height="26.3" rx="5" fill="#dde5f3" stroke="#6d93e4" stroke-width="1.7" />
<text x="807.25" y="449.04999999999995" font-family="'Liberation Serif', serif" font-size="12.6" font-weight="bold" font-style="italic" fill="#3a63d6" text-anchor="middle" >Cov1D</text>
<rect x="775.7" y="319.4" width="58.7" height="81.8" rx="0" fill="none" stroke="#5a48dc" stroke-width="1.8" stroke-dasharray="4,2.5" />
<text transform="translate(792.8,360.3) rotate(-90)" x="0" y="0" font-family="'Liberation Serif', serif" font-size="14.3" font-weight="bold" font-style="italic" fill="#5a4fd8" text-anchor="middle">Multi-Scale</text>
<text transform="translate(809.8,360.3) rotate(-90)" x="0" y="0" font-family="'Liberation Serif', serif" font-size="14.3" font-weight="bold" font-style="italic" fill="#5a4fd8" text-anchor="middle">Point-wise</text>
<text transform="translate(826.8,360.3) rotate(-90)" x="0" y="0" font-family="'Liberation Serif', serif" font-size="14.3" font-weight="bold" font-style="italic" fill="#5a4fd8" text-anchor="middle">Convolution</text>
<rect x="901.5" y="305.2" width="59.1" height="82" rx="0" fill="none" stroke="#4aa8e2" stroke-width="1.8" stroke-dasharray="4,2.5" />
<text transform="translate(918.3,347.1) rotate(-90)" x="0" y="0" font-family="'Liberation Serif', serif" font-size="14.3" font-weight="bold" font-style="italic" fill="#4aa8e2" text-anchor="middle">Multi-Scale</text>
<text transform="translate(935.3,347.1) rotate(-90)" x="0" y="0" font-family="'Liberation Serif', serif" font-size="14.3" font-weight="bold" font-style="italic" fill="#4aa8e2" text-anchor="middle">Depth-wise</text>
<text transform="translate(952.3,347.1) rotate(-90)" x="0" y="0" font-family="'Liberation Serif', serif" font-size="14.3" font-weight="bold" font-style="italic" fill="#4aa8e2" text-anchor="middle">Convolution</text>
<rect x="901.5" y="399.4" width="57" height="80.8" rx="0" fill="none" stroke="#2a8c7e" stroke-width="1.8" stroke-dasharray="4,2.5" />
<text transform="translate(916.3,439.6) rotate(-90)" x="0" y="0" font-family="'Liberation Serif', serif" font-size="14.6" font-weight="bold" font-style="italic" fill="#2a8c7e" text-anchor="middle">Casual</text>
<text transform="translate(933.8,439.6) rotate(-90)" x="0" y="0" font-family="'Liberation Serif', serif" font-size="14.6" font-weight="bold" font-style="italic" fill="#2a8c7e" text-anchor="middle">Dilation</text>
<text transform="translate(951.3,439.6) rotate(-90)" x="0" y="0" font-family="'Liberation Serif', serif" font-size="14.6" font-weight="bold" font-style="italic" fill="#2a8c7e" text-anchor="middle">Convolution</text>
<polyline points="775.7,347.8 764,347.8" fill="none" stroke="#4470d0" stroke-width="2.5" stroke-linejoin="miter" />
<path transform="translate(760.3,347.8) rotate(180)" d="M0,0 Q-4.64,-2.03 -10.30,-5.80 Q-6.27,-1.74 -6.60,0 Q-6.27,1.74 -10.30,5.80 Q-4.64,2.03 0,0 Z" fill="#4470d0"/>
<polyline points="857.7,347.8 839,347.8" fill="none" stroke="#4470d0" stroke-width="2.5" stroke-linejoin="miter" />
<path transform="translate(835,347.8) rotate(180)" d="M0,0 Q-4.64,-2.03 -10.30,-5.80 Q-6.27,-1.74 -6.60,0 Q-6.27,1.74 -10.30,5.80 Q-4.64,2.03 0,0 Z" fill="#4470d0"/>
<polyline points="848.9,347.8 848.9,444.4 837,444.4" fill="none" stroke="#4470d0" stroke-width="2.5" stroke-linejoin="miter" />
<path transform="translate(832.9,444.4) rotate(180)" d="M0,0 Q-4.64,-2.03 -10.30,-5.80 Q-6.27,-1.74 -6.60,0 Q-6.27,1.74 -10.30,5.80 Q-4.64,2.03 0,0 Z" fill="#4470d0"/>
<polyline points="778.7,444.4 764,444.4" fill="none" stroke="#4470d0" stroke-width="2.5" stroke-linejoin="miter" />
<path transform="translate(760.3,444.4) rotate(180)" d="M0,0 Q-4.64,-2.03 -10.30,-5.80 Q-6.27,-1.74 -6.60,0 Q-6.27,1.74 -10.30,5.80 Q-4.64,2.03 0,0 Z" fill="#4470d0"/>
<polyline points="901.5,347.7 887.5,347.7" fill="none" stroke="#4470d0" stroke-width="2.5" stroke-linejoin="miter" />
<path transform="translate(883.6,347.7) rotate(180)" d="M0,0 Q-4.64,-2.03 -10.30,-5.80 Q-6.27,-1.74 -6.60,0 Q-6.27,1.74 -10.30,5.80 Q-4.64,2.03 0,0 Z" fill="#4470d0"/>
<polyline points="901.5,444.4 887.5,444.4" fill="none" stroke="#4470d0" stroke-width="2.5" stroke-linejoin="miter" />
<path transform="translate(883.6,444.4) rotate(180)" d="M0,0 Q-4.64,-2.03 -10.30,-5.80 Q-6.27,-1.74 -6.60,0 Q-6.27,1.74 -10.30,5.80 Q-4.64,2.03 0,0 Z" fill="#4470d0"/>
<polyline points="1008.1,444.4 977.5,444.4 977.5,347.7 964.5,347.7" fill="none" stroke="#4470d0" stroke-width="2.5" stroke-linejoin="miter" />
<path transform="translate(960.8,347.7) rotate(180)" d="M0,0 Q-4.64,-2.03 -10.30,-5.80 Q-6.27,-1.74 -6.60,0 Q-6.27,1.74 -10.30,5.80 Q-4.64,2.03 0,0 Z" fill="#4470d0"/>
<polyline points="977.5,444.4 963,444.4" fill="none" stroke="#4470d0" stroke-width="2.5" stroke-linejoin="miter" />
<path transform="translate(958.7,444.4) rotate(180)" d="M0,0 Q-4.64,-2.03 -10.30,-5.80 Q-6.27,-1.74 -6.60,0 Q-6.27,1.74 -10.30,5.80 Q-4.64,2.03 0,0 Z" fill="#4470d0"/>
<rect x="996.4" y="224.7" width="140.8" height="266.1" rx="16" fill="#e7effb" stroke="#5cb3e2" stroke-width="1.6" />
<rect x="1063.40" y="233.30" width="18.3" height="18.3" fill="#5028b0" stroke="#141020" stroke-width="0.75"/>
<rect x="1061.20" y="235.50" width="18.3" height="18.3" fill="#7838e0" stroke="#141020" stroke-width="0.75"/>
<rect x="1059.00" y="237.70" width="18.3" height="18.3" fill="#6030c8" stroke="#141020" stroke-width="0.75"/>
<rect x="1056.80" y="239.90" width="18.3" height="18.3" fill="#5028b0" stroke="#141020" stroke-width="0.75"/>
<rect x="1054.60" y="242.10" width="18.3" height="18.3" fill="#7838e0" stroke="#141020" stroke-width="0.75"/>
<rect x="1052.40" y="244.30" width="6.25" height="6.25" fill="#8030e0"/>
<rect x="1058.50" y="244.30" width="6.25" height="6.25" fill="#9020d0"/>
<rect x="1064.60" y="244.30" width="6.25" height="6.25" fill="#7020d8"/>
<rect x="1052.40" y="250.40" width="6.25" height="6.25" fill="#9070e0"/>
<rect x="1058.50" y="250.40" width="6.25" height="6.25" fill="#7a18c0"/>
<rect x="1064.60" y="250.40" width="6.25" height="6.25" fill="#7a50f0"/>
<rect x="1052.40" y="256.50" width="6.25" height="6.25" fill="#7858c0"/>
<rect x="1058.50" y="256.50" width="6.25" height="6.25" fill="#8048e0"/>
<rect x="1064.60" y="256.50" width="6.25" height="6.25" fill="#6028c8"/>
<rect x="1052.4" y="244.3" width="18.3" height="18.3" fill="none" stroke="#141020" stroke-width="0.95"/>
<polyline points="1064.2,263 1064.2,282 1030.1,282 1030.1,300" fill="none" stroke="#4470d0" stroke-width="2.5" stroke-linejoin="miter" />
<polyline points="1064.2,282 1101.7,282 1101.7,300" fill="none" stroke="#4470d0" stroke-width="2.5" stroke-linejoin="miter" />
<path transform="translate(1030.1,304.5) rotate(90)" d="M0,0 Q-4.64,-2.03 -10.30,-5.80 Q-6.27,-1.74 -6.60,0 Q-6.27,1.74 -10.30,5.80 Q-4.64,2.03 0,0 Z" fill="#4470d0"/>
<path transform="translate(1101.7,304.5) rotate(90)" d="M0,0 Q-4.64,-2.03 -10.30,-5.80 Q-6.27,-1.74 -6.60,0 Q-6.27,1.74 -10.30,5.80 Q-4.64,2.03 0,0 Z" fill="#4470d0"/>
<rect x="1003.3" y="305" width="54.5" height="27.1" rx="5" fill="#dde5f3" stroke="#6d93e4" stroke-width="1.7" />
<text x="1032.05" y="323.05" font-family="'Liberation Serif', serif" font-size="12.6" font-weight="bold" font-style="italic" fill="#3a63d6" text-anchor="middle" >Cov2D</text>
<rect x="1074.4" y="305" width="55" height="27.1" rx="5" fill="#dde5f3" stroke="#6d93e4" stroke-width="1.7" />
<text x="1103.4" y="323.05" font-family="'Liberation Serif', serif" font-size="12.6" font-weight="bold" font-style="italic" fill="#3a63d6" text-anchor="middle" >Cov2D</text>
<polyline points="1030.1,332.1 1030.1,352.6 1049,352.6" fill="none" stroke="#4470d0" stroke-width="2.5" stroke-linejoin="miter" />
<path transform="translate(1052.4,352.6) rotate(0)" d="M0,0 Q-4.64,-2.03 -10.30,-5.80 Q-6.27,-1.74 -6.60,0 Q-6.27,1.74 -10.30,5.80 Q-4.64,2.03 0,0 Z" fill="#4470d0"/>
<polyline points="1101.7,332.1 1101.7,352.6 1079.5,352.6" fill="none" stroke="#4470d0" stroke-width="2.5" stroke-linejoin="miter" />
<path transform="translate(1076,352.6) rotate(180)" d="M0,0 Q-4.64,-2.03 -10.30,-5.80 Q-6.27,-1.74 -6.60,0 Q-6.27,1.74 -10.30,5.80 Q-4.64,2.03 0,0 Z" fill="#4470d0"/>
<circle cx="1064.2" cy="352.6" r="11.8" fill="#e3efd9" stroke="#2b4590" stroke-width="1.5"/>
<path d="M1060.3,348.70000000000005 L1068.1000000000001,356.5 M1068.1000000000001,348.70000000000005 L1060.3,356.5" stroke="#3a3a3a" stroke-width="1.1"/>
<polyline points="1064.2,364.4 1064.2,379" fill="none" stroke="#4470d0" stroke-width="2.5" stroke-linejoin="miter" />
<path transform="translate(1064.2,382.4) rotate(90)" d="M0,0 Q-4.64,-2.03 -10.30,-5.80 Q-6.27,-1.74 -6.60,0 Q-6.27,1.74 -10.30,5.80 Q-4.64,2.03 0,0 Z" fill="#4470d0"/>
<rect x="1012.4" y="382.4" width="104.1" height="27" rx="5" fill="#dde5f3" stroke="#6d93e4" stroke-width="1.7" />
<text x="1064.65" y="400.4" font-family="'Liberation Serif', serif" font-size="12.6" font-weight="bold" font-style="italic" fill="#3a63d6" text-anchor="middle" >Scale &amp; Softmax</text>
<polyline points="1100.7,409.4 1100.7,429" fill="none" stroke="#4470d0" stroke-width="2.5" stroke-linejoin="miter" />
<path transform="translate(1100.7,432.4) rotate(90)" d="M0,0 Q-4.64,-2.03 -10.30,-5.80 Q-6.27,-1.74 -6.60,0 Q-6.27,1.74 -10.30,5.80 Q-4.64,2.03 0,0 Z" fill="#4470d0"/>
<circle cx="1100.7" cy="444.2" r="11.8" fill="#e3efd9" stroke="#2b4590" stroke-width="1.5"/>
<path d="M1096.8,440.3 L1104.6000000000001,448.09999999999997 M1104.6000000000001,440.3 L1096.8,448.09999999999997" stroke="#3a3a3a" stroke-width="1.1"/>
<rect x="1008.1" y="430.4" width="53.8" height="27.3" rx="5" fill="#dde5f3" stroke="#6d93e4" stroke-width="1.7" />
<text x="1036.5" y="448.54999999999995" font-family="'Liberation Serif', serif" font-size="12.6" font-weight="bold" font-style="italic" fill="#3a63d6" text-anchor="middle" >Cov1D</text>
<polyline points="1088.9,444.2 1066,444.2" fill="none" stroke="#4470d0" stroke-width="2.5" stroke-linejoin="miter" />
<path transform="translate(1062,444.2) rotate(180)" d="M0,0 Q-4.64,-2.03 -10.30,-5.80 Q-6.27,-1.74 -6.60,0 Q-6.27,1.74 -10.30,5.80 Q-4.64,2.03 0,0 Z" fill="#4470d0"/>
<polyline points="1177.4,444.2 1116,444.2" fill="none" stroke="#4470d0" stroke-width="2.5" stroke-linejoin="miter" />
<path transform="translate(1112.5,444.2) rotate(180)" d="M0,0 Q-4.64,-2.03 -10.30,-5.80 Q-6.27,-1.74 -6.60,0 Q-6.27,1.74 -10.30,5.80 Q-4.64,2.03 0,0 Z" fill="#4470d0"/>
<text x="1067.6" y="483" font-family="'Liberation Serif', serif" font-size="21.3" font-weight="bold" font-style="normal" fill="#5ab4e0" text-anchor="middle" >SCG</text>
<rect x="1176" y="224.5" width="29.3" height="132.2" rx="0" fill="none" stroke="#1d5c52" stroke-width="1.8" stroke-dasharray="4,2.5" />
<text transform="translate(1196,291) rotate(-90)" x="0" y="0" font-family="'Liberation Serif', serif" font-size="14.8" font-weight="bold" font-style="italic" fill="#1d5c52" text-anchor="middle">Time Embedding</text>
<rect x="1177.3" y="406.8" width="29.5" height="81.8" rx="0" fill="none" stroke="#1d5c52" stroke-width="1.8" stroke-dasharray="4,2.5" />
<text transform="translate(1195,448) rotate(-90)" x="0" y="0" font-family="'Liberation Serif', serif" font-size="14.8" font-weight="bold" font-style="italic" fill="#1d5c52" text-anchor="middle">Alignment</text>
<polyline points="1189.8,356.7 1189.8,402" fill="none" stroke="#4470d0" stroke-width="2.5" stroke-linejoin="miter" />
<path transform="translate(1189.8,406.2) rotate(90)" d="M0,0 Q-4.64,-2.03 -10.30,-5.80 Q-6.27,-1.74 -6.60,0 Q-6.27,1.74 -10.30,5.80 Q-4.64,2.03 0,0 Z" fill="#4470d0"/>
<polyline points="1178.5,35.7 1190.3,35.7 1190.3,220" fill="none" stroke="#4470d0" stroke-width="2.5" stroke-linejoin="miter" />
<polyline points="1178.5,164.5 1190.3,164.5" fill="none" stroke="#4470d0" stroke-width="2.5" stroke-linejoin="miter" />
<path transform="translate(1190.3,224) rotate(90)" d="M0,0 Q-4.64,-2.03 -10.30,-5.80 Q-6.27,-1.74 -6.60,0 Q-6.27,1.74 -10.30,5.80 Q-4.64,2.03 0,0 Z" fill="#4470d0"/>
<polyline points="452.7,227.6 452.7,194" fill="none" stroke="#4470d0" stroke-width="2.5" stroke-linejoin="miter" />
<path transform="translate(452.7,190) rotate(-90)" d="M0,0 Q-4.64,-2.03 -10.30,-5.80 Q-6.27,-1.74 -6.60,0 Q-6.27,1.74 -10.30,5.80 Q-4.64,2.03 0,0 Z" fill="#4470d0"/>
<polyline points="813,159.4 813,204" fill="none" stroke="#f09aa5" stroke-width="2.2" stroke-dasharray="6,4" stroke-linejoin="miter" />
<path d="M813,206 L808,197 M813,206 L818,197" stroke="#f09aa5" stroke-width="2" fill="none"/>
<text x="120.9" y="425.9" font-family="'Liberation Serif', serif" font-size="26" font-weight="bold" font-style="italic" fill="#4472c4" text-anchor="middle" >Spatio-Temporal</text>
<text x="121.1" y="472.6" font-family="'Liberation Serif', serif" font-size="26" font-weight="bold" font-style="italic" fill="#4472c4" text-anchor="middle" >Controlled Diffusion</text>
<text x="27.5" y="524" font-family="'Liberation Serif', serif" font-size="26" font-weight="bold" font-style="italic" fill="#4472c4" text-anchor="start" >Model</text>
<text x="110" y="524" font-family="'Liberation Serif', serif" font-size="26" font-weight="normal" font-style="italic" fill="#4472c4" text-anchor="start" >(</text>
<text x="124" y="524" font-family="'Liberation Serif', serif" font-size="26" font-weight="bold" font-style="italic" fill="#4472c4" text-anchor="start" >SCDM</text>
<text x="204" y="524" font-family="'Liberation Serif', serif" font-size="26" font-weight="normal" font-style="italic" fill="#4472c4" text-anchor="start" >)</text>
<rect x="267.7" y="444.7" width="46.5" height="35.6" rx="0" fill="#fff" stroke="#000" stroke-width="2.6" />
<polyline points="267.5,447.5 271.2,453.3 282.5,464.7 285.3,460.7 289.8,466.2 293.8,466.9 304.1,466.2 308.5,470.4 313.5,476.6" fill="none" stroke="#6a5ce6" stroke-width="2.4" stroke-linejoin="round"/>
<path d="M267.5,460.2 C268.8,472.3 275.1,478.0 280.0,474.2 C286.9,468.5 294.7,462.8 304.5,461.8 C309.4,461.8 312.4,462.8 313.5,463.8" fill="none" stroke="#f01010" stroke-width="2.4"/>
<text x="290.5" y="503.8" font-family="'Liberation Serif', serif" font-size="19" font-weight="bold" font-style="italic" fill="#000" text-anchor="middle" >Synthetic</text>
<text x="289.6" y="525.7" font-family="'Liberation Serif', serif" font-size="19" font-weight="bold" font-style="italic" fill="#000" text-anchor="middle" >fNIRS</text>
<rect x="7.7" y="563.9" width="1251.6" height="53.9" rx="0" fill="none" stroke="#1fae2e" stroke-width="1.7" stroke-dasharray="5,2.6" />
<rect x="25.00" y="577.20" width="19.5" height="19.5" fill="#e8802a" stroke="#f4a450" stroke-width="0.8"/>
<rect x="23.20" y="579.00" width="19.5" height="19.5" fill="#e07028" stroke="#f4a450" stroke-width="0.8"/>
<rect x="21.40" y="580.80" width="19.5" height="19.5" fill="#f0a030" stroke="#f4a450" stroke-width="0.8"/>
<rect x="19.60" y="582.60" width="19.5" height="19.5" fill="#e8802a" stroke="#f4a450" stroke-width="0.8"/>
<rect x="17.80" y="584.40" width="19.5" height="19.5" fill="#e07028" stroke="#f4a450" stroke-width="0.8"/>
<rect x="16.00" y="586.20" width="19.5" height="19.5" fill="#f0a030" stroke="#f4a450" stroke-width="0.8"/>
<rect x="14.20" y="588.00" width="6.65" height="6.65" fill="#e88030"/>
<rect x="20.70" y="588.00" width="6.65" height="6.65" fill="#f0b000"/>
<rect x="27.20" y="588.00" width="6.65" height="6.65" fill="#e8b060"/>
<rect x="14.20" y="594.50" width="6.65" height="6.65" fill="#f8d050"/>
<rect x="20.70" y="594.50" width="6.65" height="6.65" fill="#d06010"/>
<rect x="27.20" y="594.50" width="6.65" height="6.65" fill="#f8d050"/>
<rect x="14.20" y="601.00" width="6.65" height="6.65" fill="#d06818"/>
<rect x="20.70" y="601.00" width="6.65" height="6.65" fill="#f8d0a8"/>
<rect x="27.20" y="601.00" width="6.65" height="6.65" fill="#e88030"/>
<rect x="14.2" y="588" width="19.5" height="19.5" fill="none" stroke="#e06818" stroke-width="1.0"/>
<rect x="439.70" y="578.00" width="18.8" height="18.8" fill="#e02030" stroke="#f08090" stroke-width="0.8"/>
<rect x="437.87" y="579.83" width="18.8" height="18.8" fill="#d01838" stroke="#f08090" stroke-width="0.8"/>
<rect x="436.03" y="581.67" width="18.8" height="18.8" fill="#f04050" stroke="#f08090" stroke-width="0.8"/>
<rect x="434.20" y="583.50" width="18.8" height="18.8" fill="#e02030" stroke="#f08090" stroke-width="0.8"/>
<rect x="432.37" y="585.33" width="18.8" height="18.8" fill="#d01838" stroke="#f08090" stroke-width="0.8"/>
<rect x="430.53" y="587.17" width="18.8" height="18.8" fill="#f04050" stroke="#f08090" stroke-width="0.8"/>
<rect x="428.70" y="589.00" width="6.42" height="6.42" fill="#c00010"/>
<rect x="434.97" y="589.00" width="6.42" height="6.42" fill="#ff1010"/>
<rect x="441.23" y="589.00" width="6.42" height="6.42" fill="#ff0000"/>
<rect x="428.70" y="595.27" width="6.42" height="6.42" fill="#d06010"/>
<rect x="434.97" y="595.27" width="6.42" height="6.42" fill="#ff1010"/>
<rect x="441.23" y="595.27" width="6.42" height="6.42" fill="#c80010"/>
<rect x="428.70" y="601.53" width="6.42" height="6.42" fill="#d02030"/>
<rect x="434.97" y="601.53" width="6.42" height="6.42" fill="#ff1010"/>
<rect x="441.23" y="601.53" width="6.42" height="6.42" fill="#b01048"/>
<path d="M434.97,589 V607.8 M441.23,589 V607.8 M428.7,595.27 H447.5 M428.7,601.53 H447.5" stroke="#f4a0a0" stroke-width="0.5"/>
<rect x="428.7" y="589" width="18.8" height="18.8" fill="none" stroke="#c01020" stroke-width="1.0"/>
<rect x="857.40" y="578.00" width="18.6" height="18.6" fill="#5028b0" stroke="#141020" stroke-width="0.75"/>
<rect x="855.20" y="580.20" width="18.6" height="18.6" fill="#7838e0" stroke="#141020" stroke-width="0.75"/>
<rect x="853.00" y="582.40" width="18.6" height="18.6" fill="#6030c8" stroke="#141020" stroke-width="0.75"/>
<rect x="850.80" y="584.60" width="18.6" height="18.6" fill="#5028b0" stroke="#141020" stroke-width="0.75"/>
<rect x="848.60" y="586.80" width="18.6" height="18.6" fill="#7838e0" stroke="#141020" stroke-width="0.75"/>
<rect x="846.40" y="589.00" width="6.35" height="6.35" fill="#8030e0"/>
<rect x="852.60" y="589.00" width="6.35" height="6.35" fill="#9020d0"/>
<rect x="858.80" y="589.00" width="6.35" height="6.35" fill="#7020d8"/>
<rect x="846.40" y="595.20" width="6.35" height="6.35" fill="#9070e0"/>
<rect x="852.60" y="595.20" width="6.35" height="6.35" fill="#7a18c0"/>
<rect x="858.80" y="595.20" width="6.35" height="6.35" fill="#7a50f0"/>
<rect x="846.40" y="601.40" width="6.35" height="6.35" fill="#7858c0"/>
<rect x="852.60" y="601.40" width="6.35" height="6.35" fill="#8048e0"/>
<rect x="858.80" y="601.40" width="6.35" height="6.35" fill="#6028c8"/>
<rect x="846.4" y="589" width="18.6" height="18.6" fill="none" stroke="#141020" stroke-width="0.95"/>
<text x="49" y="596.6" font-family="'Liberation Serif', serif" font-size="12.6" font-style="italic" fill="#1a1a1a" xml:space="preserve">Distance correlation coefficient matrix</text>
<text x="247.4" y="596.6" font-family="'Liberation Serif', serif" font-size="13.2" font-style="italic" fill="#1a1a1a" xml:space="preserve">C</text>
<text x="256.3" y="600.3000000000001" font-family="'Liberation Serif', serif" font-size="9.5" font-style="italic" fill="#1a1a1a" xml:space="preserve">e</text>
<text x="261" y="600.3000000000001" font-family="'Liberation Serif', serif" font-size="9.5" font-style="italic" fill="#1a1a1a" xml:space="preserve">f</text>
<text x="268.4" y="596.6" font-family="'Liberation Serif', serif" font-size="12.6" font-style="italic" fill="#1a1a1a" xml:space="preserve">pre-computed from</text>
<text x="368.2" y="596.6" font-family="'Liberation Serif', serif" font-size="13" font-style="italic" fill="#1a1a1a" xml:space="preserve">e</text>
<text x="375.4" y="599.8000000000001" font-family="'Liberation Serif', serif" font-size="9.5" fill="#1a1a1a">0</text>
<text x="383.6" y="596.6" font-family="'Liberation Serif', serif" font-size="12.6" font-style="italic" fill="#1a1a1a" xml:space="preserve" textLength="19.5" lengthAdjust="spacingAndGlyphs">and</text>
<text x="405.8" y="596.6" font-family="'Liberation Serif', serif" font-size="13" font-style="italic" fill="#1a1a1a" xml:space="preserve">f</text>
<text x="412.6" y="599.8000000000001" font-family="'Liberation Serif', serif" font-size="9.5" fill="#1a1a1a">0</text>
<text x="463.4" y="596.6" font-family="'Liberation Serif', serif" font-size="12.6" font-style="italic" fill="#1a1a1a" xml:space="preserve">Distance correlation  coefficient matrix</text>
<text x="664.6" y="596.6" font-family="'Liberation Serif', serif" font-size="13.2" font-style="italic" fill="#1a1a1a" xml:space="preserve">C</text>
<text x="673.5" y="600.3000000000001" font-family="'Liberation Serif', serif" font-size="9.5" font-style="italic" fill="#1a1a1a" xml:space="preserve">f</text>
<text x="678.5" y="600.3000000000001" font-family="'Liberation Serif', serif" font-size="9.5" font-style="italic" fill="#1a1a1a" xml:space="preserve">e</text>
<text x="686.8" y="596.6" font-family="'Liberation Serif', serif" font-size="12.6" font-style="italic" fill="#1a1a1a" xml:space="preserve">pre-computed from</text>
<text x="786.2" y="596.6" font-family="'Liberation Serif', serif" font-size="13" font-style="italic" fill="#1a1a1a" xml:space="preserve">f</text>
<text x="794.3" y="599.8000000000001" font-family="'Liberation Serif', serif" font-size="9.5" fill="#1a1a1a">0</text>
<text x="802" y="596.6" font-family="'Liberation Serif', serif" font-size="12.6" font-style="italic" fill="#1a1a1a" xml:space="preserve" textLength="19.5" lengthAdjust="spacingAndGlyphs">and</text>
<text x="823.8" y="596.6" font-family="'Liberation Serif', serif" font-size="13" font-style="italic" fill="#1a1a1a" xml:space="preserve">e</text>
<text x="830.4" y="599.8000000000001" font-family="'Liberation Serif', serif" font-size="9.5" fill="#1a1a1a">0</text>
<text x="879.7" y="596.6" font-family="'Liberation Serif', serif" font-size="12.6" font-style="italic" fill="#1a1a1a" xml:space="preserve">Pearson correlation conefficient matrix</text>
<text x="1081.2" y="596.6" font-family="'Liberation Serif', serif" font-size="13.2" font-style="italic" fill="#1a1a1a" xml:space="preserve">C</text>
<text x="1089" y="599.8000000000001" font-family="'Liberation Serif', serif" font-size="9.5" font-style="italic" fill="#1a1a1a" xml:space="preserve">e</text>
<text x="1094.6" y="596.6" font-family="'Liberation Serif', serif" font-size="13.5" font-style="italic" fill="#1a1a1a" xml:space="preserve">(</text>
<text x="1099.4" y="596.6" font-family="'Liberation Serif', serif" font-size="13.2" font-style="italic" fill="#1a1a1a" xml:space="preserve">C</text>
<text x="1107" y="599.8000000000001" font-family="'Liberation Serif', serif" font-size="9.5" font-style="italic" fill="#1a1a1a" xml:space="preserve">f</text>
<text x="1111.8" y="596.6" font-family="'Liberation Serif', serif" font-size="13.5" font-style="italic" fill="#1a1a1a" xml:space="preserve">)</text>
<text x="1120.8" y="596.6" font-family="'Liberation Serif', serif" font-size="12.6" font-style="italic" fill="#1a1a1a" xml:space="preserve">pre-computed from</text>
<text x="1220.6" y="596.6" font-family="'Liberation Serif', serif" font-size="13" font-style="italic" fill="#1a1a1a" xml:space="preserve">e</text>
<text x="1226.9" y="599.8000000000001" font-family="'Liberation Serif', serif" font-size="9.5" fill="#1a1a1a">0</text>
<text x="1232.2" y="596.6" font-family="'Liberation Serif', serif" font-size="13.5" font-style="italic" fill="#1a1a1a" xml:space="preserve">(</text>
<text x="1236" y="596.6" font-family="'Liberation Serif', serif" font-size="13" font-style="italic" fill="#1a1a1a" xml:space="preserve">f</text>
<text x="1244.9" y="599.8000000000001" font-family="'Liberation Serif', serif" font-size="9.5" fill="#1a1a1a">0</text>
<text x="1249" y="596.6" font-family="'Liberation Serif', serif" font-size="13.5" font-style="italic" fill="#1a1a1a" xml:space="preserve">)</text>
</svg></body></html>
